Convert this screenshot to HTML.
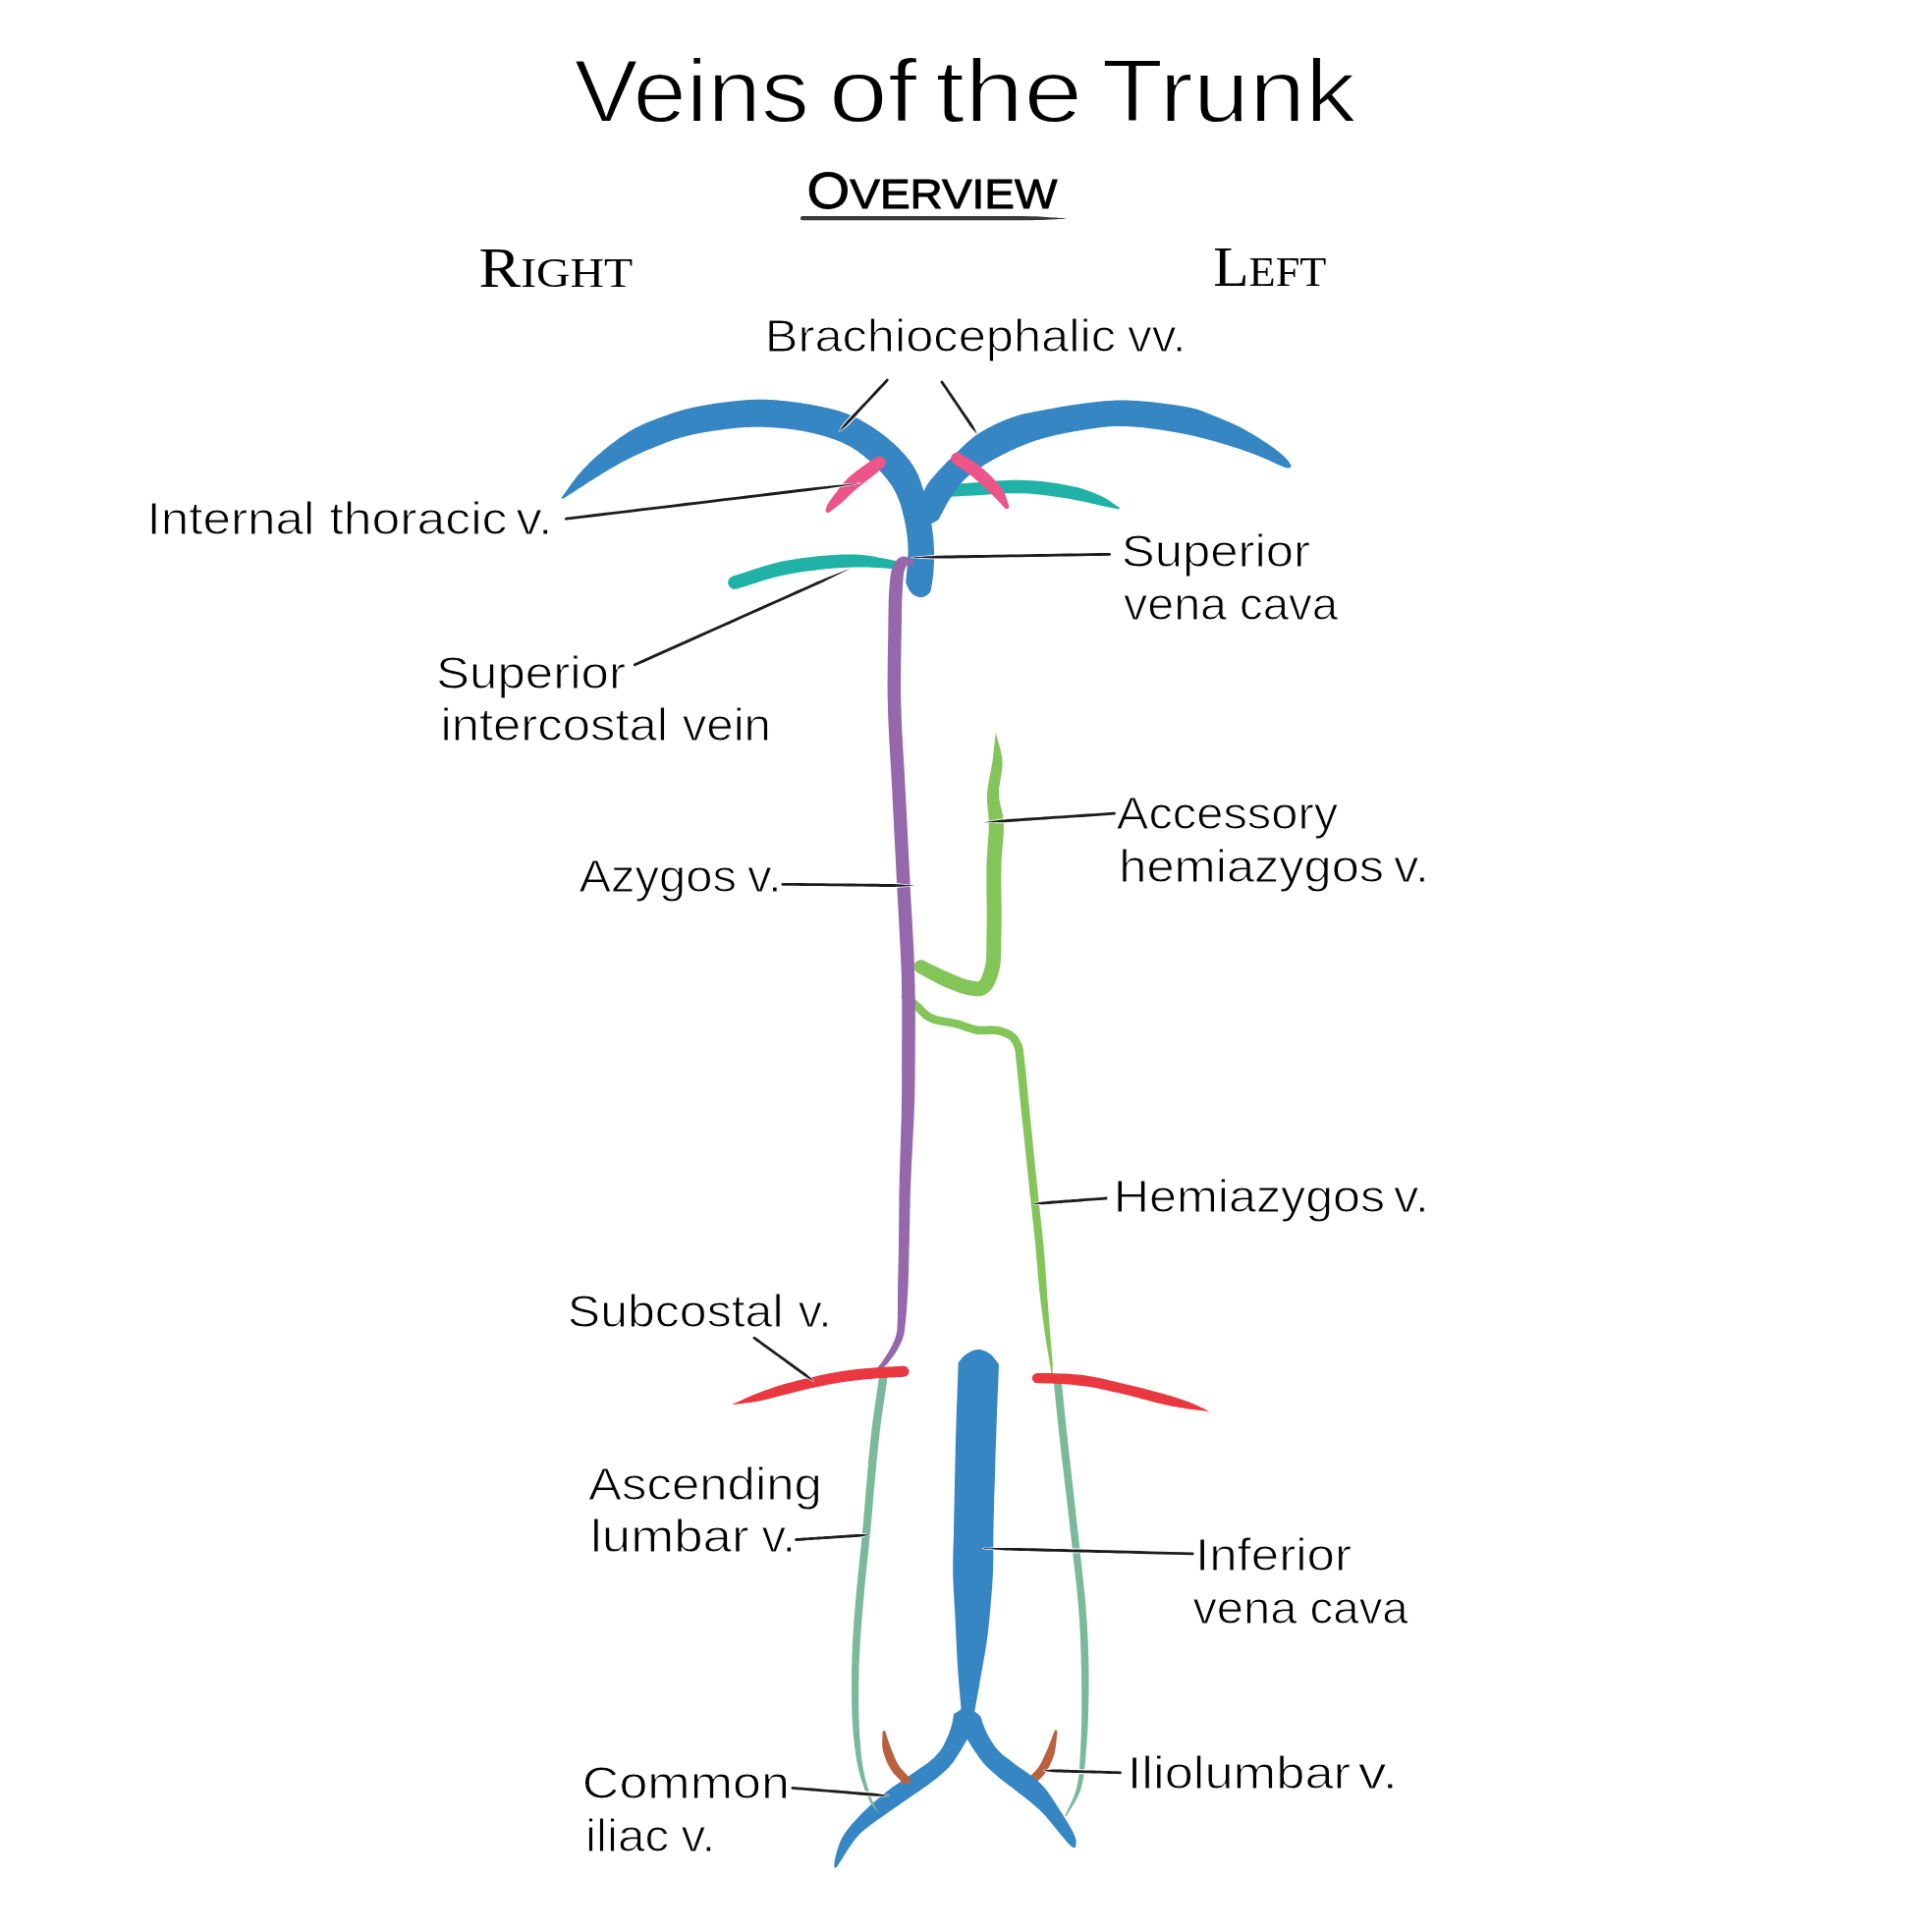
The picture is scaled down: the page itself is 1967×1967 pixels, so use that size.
<!DOCTYPE html>
<html><head><meta charset="utf-8"><title>Veins of the Trunk</title>
<style>html,body{margin:0;padding:0;background:#fff;}svg{display:block;}</style></head>
<body>
<svg width="1967" height="1967" viewBox="0 0 1967 1967">
<rect width="1967" height="1967" fill="#fff"/>
<g id="vessels">
<path d="M958.4 506.2 L961.6 506.1 L964.7 505.9 L967.8 505.7 L970.8 505.5 L973.9 505.4 L977.0 505.2 L980.2 505.0 L983.5 504.8 L986.8 504.7 L990.4 504.5 L995.2 504.2 L1000.2 503.9 L1005.4 503.5 L1010.7 503.2 L1016.0 502.8 L1021.4 502.6 L1026.8 502.3 L1032.1 502.2 L1037.4 502.2 L1042.5 502.3 L1047.7 502.6 L1053.1 503.1 L1058.5 503.6 L1064.0 504.2 L1069.5 504.9 L1074.8 505.7 L1080.0 506.5 L1085.0 507.3 L1089.8 508.1 L1094.2 509.0 L1097.2 509.5 L1100.0 510.1 L1102.8 510.6 L1105.5 511.2 L1108.1 511.8 L1110.6 512.4 L1113.2 513.0 L1115.6 513.6 L1118.1 514.2 L1120.5 514.7 L1122.4 515.1 L1124.2 515.5 L1126.1 515.9 L1127.9 516.2 L1129.6 516.6 L1131.4 516.9 L1133.2 517.3 L1135.0 517.7 L1136.8 518.0 L1138.6 518.4 A1.00 1.00 0 0 0 1139.4 516.6 L1137.8 515.5 L1136.3 514.5 L1134.9 513.5 L1133.4 512.4 L1131.9 511.4 L1130.3 510.3 L1128.7 509.3 L1127.1 508.2 L1125.3 507.2 L1123.5 506.3 L1121.2 505.2 L1118.9 504.1 L1116.5 503.0 L1114.1 502.0 L1111.5 500.9 L1108.8 499.9 L1106.0 498.9 L1103.1 498.0 L1100.1 497.1 L1097.0 496.2 L1092.4 495.2 L1087.4 494.2 L1082.3 493.2 L1076.9 492.3 L1071.3 491.5 L1065.7 490.8 L1060.0 490.1 L1054.3 489.6 L1048.6 489.2 L1043.1 488.9 L1037.5 488.7 L1031.9 488.7 L1026.3 488.9 L1020.7 489.2 L1015.2 489.6 L1009.7 490.0 L1004.4 490.4 L999.2 490.8 L994.3 491.2 L989.6 491.5 L986.1 491.7 L982.7 492.0 L979.4 492.2 L976.2 492.4 L973.1 492.6 L970.0 492.9 L966.9 493.1 L963.9 493.3 L960.8 493.5 L957.6 493.8 Z" fill="#20b2a6"/>
<path d="M749.9 599.5 L755.1 597.9 L760.3 596.4 L765.4 594.8 L770.5 593.2 L775.5 591.6 L780.6 590.1 L785.6 588.6 L790.8 587.3 L796.0 586.0 L801.3 584.9 L807.8 583.7 L814.6 582.6 L821.6 581.6 L828.7 580.7 L835.9 579.8 L843.1 579.1 L850.2 578.5 L857.1 578.1 L863.7 577.7 L870.0 577.5 L874.7 577.4 L879.2 577.4 L883.7 577.6 L888.1 577.8 L892.4 578.0 L896.8 578.3 L901.2 578.6 L905.6 578.9 L910.0 579.2 L914.6 579.5 L915.4 571.5 L911.0 570.8 L906.7 570.0 L902.5 569.1 L898.2 568.2 L893.8 567.4 L889.3 566.5 L884.8 565.8 L880.0 565.2 L875.1 564.8 L870.0 564.5 L863.4 564.5 L856.5 564.6 L849.3 564.9 L842.0 565.4 L834.6 566.1 L827.1 566.9 L819.7 567.8 L812.5 568.8 L805.4 569.9 L798.7 571.1 L792.9 572.3 L787.3 573.7 L781.9 575.2 L776.6 576.7 L771.4 578.4 L766.3 580.0 L761.2 581.7 L756.2 583.4 L751.2 585.0 L746.1 586.5 A6.75 6.75 0 0 0 749.9 599.5 Z" fill="#20b2a6"/>
<path d="M571.5 506.8 L572.7 505.2 L573.9 503.6 L575.0 501.9 L576.2 500.3 L577.3 498.7 L578.5 497.1 L579.7 495.4 L580.8 493.8 L582.0 492.2 L583.2 490.6 L584.4 489.0 L585.6 487.4 L586.9 485.8 L588.1 484.3 L589.4 482.7 L590.7 481.2 L592.0 479.7 L593.3 478.2 L594.7 476.8 L596.1 475.3 L597.5 473.9 L598.9 472.5 L600.3 471.1 L601.7 469.7 L603.2 468.3 L604.7 467.0 L606.2 465.6 L607.7 464.3 L609.2 463.0 L610.7 461.7 L612.2 460.4 L613.7 459.1 L615.3 457.8 L616.8 456.6 L618.4 455.3 L619.9 454.1 L621.5 452.8 L623.1 451.6 L624.7 450.4 L626.3 449.2 L627.9 448.0 L629.5 446.8 L631.1 445.6 L632.7 444.5 L634.4 443.4 L636.1 442.3 L637.7 441.2 L639.4 440.1 L641.1 439.1 L642.9 438.1 L644.6 437.1 L646.3 436.1 L648.1 435.2 L649.9 434.3 L651.7 433.4 L653.5 432.6 L655.3 431.7 L657.1 430.9 L659.0 430.1 L660.8 429.4 L662.7 428.6 L664.5 427.9 L666.4 427.2 L668.3 426.4 L670.1 425.7 L672.0 425.0 L673.9 424.4 L675.8 423.7 L677.7 423.0 L679.6 422.4 L681.4 421.7 L683.3 421.1 L685.2 420.5 L687.1 419.8 L689.1 419.3 L691.0 418.7 L692.9 418.1 L694.8 417.6 L696.7 417.0 L698.7 416.5 L700.6 416.0 L702.6 415.6 L704.5 415.1 L706.4 414.7 L708.4 414.3 L710.4 413.9 L712.3 413.5 L714.3 413.1 L716.3 412.7 L718.2 412.4 L720.2 412.1 L722.2 411.7 L724.1 411.4 L726.1 411.1 L728.1 410.8 L730.1 410.5 L732.1 410.3 L734.0 410.0 L736.0 409.7 L738.0 409.5 L740.0 409.3 L742.0 409.0 L744.0 408.8 L746.0 408.6 L747.9 408.4 L749.9 408.1 L751.9 407.9 L753.9 407.8 L755.9 407.6 L757.9 407.4 L759.9 407.2 L761.9 407.1 L763.9 407.0 L765.9 406.9 L767.9 406.8 L769.9 406.7 L771.9 406.7 L773.9 406.7 L775.9 406.7 L777.9 406.7 L779.9 406.8 L781.9 406.9 L783.8 407.0 L785.8 407.1 L787.8 407.2 L789.8 407.3 L791.8 407.5 L793.8 407.7 L795.8 407.9 L797.8 408.1 L799.8 408.3 L801.8 408.5 L803.8 408.7 L805.7 409.0 L807.7 409.2 L809.7 409.5 L811.7 409.8 L813.7 410.1 L815.6 410.3 L817.6 410.7 L819.6 411.0 L821.6 411.3 L823.5 411.6 L825.5 412.0 L827.5 412.3 L829.4 412.7 L831.4 413.1 L833.4 413.5 L835.3 413.8 L837.3 414.2 L839.3 414.7 L841.2 415.1 L843.2 415.5 L845.1 416.0 L847.0 416.5 L849.0 417.0 L850.9 417.5 L852.8 418.0 L854.7 418.6 L856.6 419.2 L858.5 419.9 L860.4 420.5 L862.3 421.2 L864.1 422.0 L866.0 422.7 L867.8 423.5 L869.6 424.4 L871.4 425.2 L873.2 426.1 L875.0 427.0 L876.7 428.0 L878.5 428.9 L880.2 429.9 L882.0 430.9 L883.7 432.0 L885.4 433.0 L887.1 434.1 L888.7 435.2 L890.4 436.3 L892.0 437.4 L893.7 438.6 L895.3 439.7 L896.9 440.9 L898.5 442.1 L900.1 443.3 L901.7 444.5 L903.2 445.8 L904.8 447.1 L906.3 448.4 L907.8 449.7 L909.3 451.0 L910.8 452.3 L912.2 453.7 L913.7 455.1 L915.1 456.5 L916.5 457.9 L917.9 459.4 L919.2 460.8 L920.6 462.3 L921.9 463.8 L923.2 465.3 L924.5 466.9 L925.7 468.4 L926.9 470.0 L928.0 471.7 L929.2 473.3 L930.2 475.0 L931.2 476.7 L932.2 478.4 L933.1 480.2 L934.0 482.0 L934.8 483.8 L935.6 485.6 L936.3 487.5 L937.0 489.4 L937.7 491.3 L938.3 493.2 L938.9 495.0 L939.5 497.0 L940.1 498.9 L940.7 500.8 L941.3 502.7 L941.9 504.6 L942.4 506.5 L943.0 508.4 L943.5 510.4 L944.0 512.3 L944.5 514.2 L945.0 516.2 L945.5 518.1 L945.9 520.1 L946.3 522.0 L946.7 524.0 L947.1 526.0 L947.4 527.9 L947.8 529.9 L948.1 531.9 L948.4 533.8 L948.7 535.8 L949.0 537.8 L949.3 539.8 L949.5 541.8 L949.8 543.7 L950.0 545.7 L950.2 547.7 L950.4 549.7 L950.5 551.7 L950.7 553.7 L950.8 555.7 L950.9 557.7 L951.0 559.7 L951.0 561.7 L951.1 563.7 L951.1 565.7 L951.1 567.7 L951.0 569.7 L951.0 571.7 L950.9 573.7 L950.8 575.7 L950.7 577.7 L950.6 579.7 L950.4 581.6 L950.3 583.6 L950.1 585.6 L949.8 587.6 L949.6 589.6 L949.3 591.6 L949.0 593.5 L948.7 595.5 L948.3 597.4 L948.0 599.4 L947.6 601.3 L947.3 602.6 L945.9 604.0 L944.4 605.4 L942.8 606.5 L941.1 607.4 L939.3 607.9 L937.5 608.0 L935.8 607.9 L934.2 607.5 L932.6 606.9 L931.1 606.2 L929.7 605.2 L928.3 604.1 L927.1 602.7 L925.9 601.1 L924.9 599.4 L924.1 597.6 L923.2 595.8 L922.4 594.1 L922.1 593.5 L922.3 591.5 L922.5 589.5 L922.7 587.5 L922.9 585.5 L923.1 583.5 L923.3 581.6 L923.5 579.6 L923.7 577.6 L923.8 575.6 L924.0 573.6 L924.1 571.6 L924.3 569.6 L924.4 567.6 L924.4 565.6 L924.5 563.6 L924.5 561.6 L924.5 559.6 L924.4 557.6 L924.4 555.6 L924.3 553.6 L924.1 551.6 L924.0 549.7 L923.8 547.7 L923.6 545.7 L923.3 543.7 L923.0 541.7 L922.7 539.7 L922.4 537.8 L922.1 535.8 L921.7 533.8 L921.3 531.9 L920.9 529.9 L920.5 528.0 L920.0 526.0 L919.6 524.1 L919.1 522.1 L918.6 520.2 L918.1 518.3 L917.5 516.3 L917.0 514.4 L916.4 512.5 L915.7 510.6 L915.0 508.8 L914.3 506.9 L913.5 505.1 L912.7 503.3 L911.8 501.5 L910.9 499.7 L910.0 498.0 L909.0 496.3 L907.9 494.6 L906.8 492.9 L905.6 491.3 L904.5 489.7 L903.2 488.1 L902.0 486.6 L900.7 485.0 L899.4 483.5 L898.1 482.0 L896.7 480.5 L895.3 479.1 L894.0 477.6 L892.6 476.2 L891.1 474.8 L889.7 473.4 L888.3 472.0 L886.8 470.7 L885.4 469.3 L883.9 468.0 L882.4 466.7 L880.8 465.4 L879.3 464.1 L877.7 462.9 L876.1 461.7 L874.5 460.5 L872.9 459.3 L871.2 458.2 L869.5 457.2 L867.8 456.1 L866.1 455.1 L864.4 454.1 L862.6 453.2 L860.8 452.3 L859.0 451.5 L857.2 450.6 L855.4 449.8 L853.6 449.0 L851.7 448.3 L849.8 447.6 L848.0 446.9 L846.1 446.2 L844.2 445.6 L842.3 445.0 L840.4 444.4 L838.5 443.8 L836.5 443.2 L834.6 442.7 L832.7 442.2 L830.7 441.7 L828.8 441.2 L826.9 440.8 L824.9 440.4 L822.9 439.9 L821.0 439.5 L819.0 439.2 L817.1 438.8 L815.1 438.5 L813.1 438.2 L811.1 437.9 L809.2 437.6 L807.2 437.3 L805.2 437.0 L803.2 436.8 L801.2 436.6 L799.2 436.3 L797.3 436.1 L795.3 436.0 L793.3 435.8 L791.3 435.6 L789.3 435.5 L787.3 435.3 L785.3 435.2 L783.3 435.1 L781.3 435.0 L779.3 434.9 L777.3 434.8 L775.3 434.8 L773.3 434.8 L771.3 434.7 L769.3 434.7 L767.3 434.8 L765.3 434.8 L763.3 434.9 L761.3 434.9 L759.3 435.0 L757.3 435.1 L755.3 435.3 L753.3 435.4 L751.3 435.6 L749.4 435.8 L747.4 436.0 L745.4 436.2 L743.4 436.4 L741.4 436.6 L739.4 436.9 L737.4 437.1 L735.5 437.4 L733.5 437.7 L731.5 437.9 L729.5 438.2 L727.5 438.5 L725.6 438.8 L723.6 439.1 L721.6 439.4 L719.6 439.7 L717.7 440.1 L715.7 440.4 L713.7 440.8 L711.7 441.1 L709.8 441.5 L707.8 441.9 L705.9 442.3 L703.9 442.8 L702.0 443.2 L700.0 443.7 L698.1 444.2 L696.2 444.7 L694.2 445.2 L692.3 445.8 L690.4 446.4 L688.5 447.0 L686.6 447.6 L684.7 448.3 L682.8 448.9 L681.0 449.6 L679.1 450.3 L677.2 451.0 L675.3 451.7 L673.5 452.5 L671.6 453.2 L669.8 453.9 L667.9 454.7 L666.1 455.4 L664.2 456.2 L662.4 457.0 L660.5 457.8 L658.7 458.5 L656.9 459.3 L655.0 460.1 L653.2 460.9 L651.4 461.8 L649.5 462.6 L647.7 463.4 L645.9 464.3 L644.1 465.1 L642.3 466.0 L640.5 466.9 L638.7 467.8 L636.9 468.7 L635.2 469.6 L633.4 470.5 L631.6 471.5 L629.9 472.4 L628.1 473.4 L626.4 474.4 L624.7 475.4 L622.9 476.4 L621.2 477.4 L619.5 478.4 L617.8 479.5 L616.1 480.5 L614.4 481.5 L612.7 482.6 L611.0 483.7 L609.3 484.7 L607.6 485.8 L605.9 486.8 L604.2 487.9 L602.5 489.0 L600.8 490.0 L599.1 491.1 L597.4 492.2 L595.8 493.3 L594.1 494.4 L592.4 495.4 L590.7 496.5 L589.0 497.6 L587.4 498.7 L585.7 499.8 L584.0 500.9 L582.3 502.0 L580.7 503.1 L579.0 504.1 L577.3 505.2 L575.7 506.3 L574.1 507.3 L573.0 508.0 L571.5 506.8 Z" fill="#3786c4"/>
<path d="M936.0 530.0 L936.2 528.0 L936.4 526.0 L936.5 524.0 L936.7 522.0 L936.8 520.0 L937.0 518.0 L937.2 516.1 L937.4 514.1 L937.7 512.1 L938.0 510.1 L938.3 508.2 L938.7 506.2 L939.2 504.3 L939.7 502.4 L940.4 500.6 L941.1 498.8 L942.0 497.0 L942.9 495.2 L943.9 493.6 L945.0 491.9 L946.2 490.3 L947.4 488.7 L948.7 487.2 L949.9 485.7 L951.3 484.2 L952.6 482.7 L953.9 481.2 L955.3 479.7 L956.6 478.2 L958.0 476.8 L959.4 475.3 L960.7 473.9 L962.1 472.4 L963.5 471.0 L964.9 469.6 L966.3 468.2 L967.8 466.7 L969.2 465.3 L970.6 463.9 L972.0 462.5 L973.5 461.1 L974.9 459.8 L976.3 458.4 L977.8 457.0 L979.2 455.6 L980.7 454.2 L982.1 452.8 L983.6 451.5 L985.1 450.1 L986.6 448.8 L988.1 447.5 L989.6 446.3 L991.2 445.0 L992.8 443.8 L994.4 442.7 L996.1 441.6 L997.7 440.5 L999.4 439.4 L1001.1 438.4 L1002.9 437.4 L1004.6 436.4 L1006.4 435.5 L1008.2 434.6 L1009.9 433.7 L1011.7 432.8 L1013.5 431.9 L1015.3 431.1 L1017.2 430.2 L1019.0 429.4 L1020.8 428.6 L1022.7 427.9 L1024.5 427.1 L1026.4 426.4 L1028.3 425.7 L1030.1 425.0 L1032.0 424.4 L1033.9 423.8 L1035.8 423.2 L1037.8 422.6 L1039.7 422.1 L1041.6 421.6 L1043.6 421.1 L1045.5 420.7 L1047.5 420.3 L1049.4 419.9 L1051.4 419.5 L1053.3 419.1 L1055.3 418.8 L1057.3 418.4 L1059.2 418.0 L1061.2 417.7 L1063.2 417.3 L1065.1 417.0 L1067.1 416.6 L1069.1 416.3 L1071.1 415.9 L1073.0 415.5 L1075.0 415.2 L1077.0 414.8 L1078.9 414.5 L1080.9 414.1 L1082.9 413.8 L1084.8 413.5 L1086.8 413.2 L1088.8 412.8 L1090.8 412.5 L1092.7 412.2 L1094.7 411.9 L1096.7 411.6 L1098.7 411.4 L1100.7 411.1 L1102.6 410.8 L1104.6 410.6 L1106.6 410.3 L1108.6 410.1 L1110.6 409.8 L1112.6 409.6 L1114.5 409.4 L1116.5 409.1 L1118.5 408.9 L1120.5 408.7 L1122.5 408.5 L1124.5 408.3 L1126.5 408.2 L1128.5 408.0 L1130.5 407.9 L1132.5 407.8 L1134.5 407.7 L1136.5 407.6 L1138.5 407.5 L1140.5 407.5 L1142.5 407.5 L1144.5 407.5 L1146.5 407.6 L1148.5 407.6 L1150.5 407.7 L1152.4 407.8 L1154.4 407.9 L1156.4 408.0 L1158.4 408.1 L1160.4 408.3 L1162.4 408.4 L1164.4 408.6 L1166.4 408.8 L1168.4 408.9 L1170.4 409.1 L1172.4 409.3 L1174.4 409.5 L1176.4 409.8 L1178.3 410.0 L1180.3 410.2 L1182.3 410.5 L1184.3 410.7 L1186.3 411.0 L1188.3 411.2 L1190.3 411.5 L1192.2 411.7 L1194.2 412.0 L1196.2 412.3 L1198.2 412.6 L1200.1 412.9 L1202.1 413.2 L1204.1 413.6 L1206.1 413.9 L1208.0 414.3 L1210.0 414.7 L1211.9 415.1 L1213.9 415.5 L1215.8 416.0 L1217.7 416.5 L1219.7 417.1 L1221.6 417.7 L1223.4 418.3 L1225.3 419.0 L1227.2 419.7 L1229.0 420.4 L1230.9 421.2 L1232.7 421.9 L1234.6 422.7 L1236.4 423.4 L1238.3 424.2 L1240.2 424.9 L1242.0 425.7 L1243.9 426.4 L1245.7 427.2 L1247.6 428.0 L1249.4 428.7 L1251.2 429.5 L1253.1 430.4 L1254.9 431.2 L1256.7 432.0 L1258.5 432.9 L1260.3 433.8 L1262.1 434.7 L1263.8 435.6 L1265.6 436.5 L1267.4 437.5 L1269.1 438.5 L1270.8 439.5 L1272.6 440.5 L1274.3 441.5 L1276.0 442.5 L1277.7 443.5 L1279.4 444.6 L1281.1 445.6 L1282.8 446.7 L1284.5 447.8 L1286.2 448.9 L1287.8 450.0 L1289.5 451.1 L1291.2 452.2 L1292.8 453.3 L1294.5 454.4 L1296.1 455.6 L1297.7 456.8 L1299.3 458.0 L1300.9 459.2 L1302.5 460.4 L1304.0 461.7 L1305.5 463.0 L1306.9 464.3 L1308.4 465.7 L1309.7 467.2 L1311.1 468.6 L1312.3 470.2 L1313.4 471.9 L1314.3 473.6 L1314.8 474.5 L1313.6 476.1 L1311.9 476.6 L1310.1 476.4 L1308.3 475.9 L1306.5 475.2 L1304.7 474.5 L1302.9 473.8 L1301.1 473.0 L1299.3 472.2 L1297.5 471.3 L1295.7 470.5 L1293.9 469.7 L1292.1 468.8 L1290.3 468.0 L1288.4 467.2 L1286.6 466.4 L1284.8 465.6 L1282.9 464.9 L1281.1 464.1 L1279.2 463.4 L1277.3 462.6 L1275.5 461.9 L1273.6 461.2 L1271.7 460.5 L1269.8 459.9 L1268.0 459.2 L1266.1 458.5 L1264.2 457.9 L1262.3 457.3 L1260.4 456.6 L1258.5 456.0 L1256.6 455.4 L1254.7 454.8 L1252.8 454.2 L1250.9 453.6 L1248.9 453.0 L1247.0 452.4 L1245.1 451.8 L1243.2 451.3 L1241.3 450.7 L1239.4 450.1 L1237.4 449.6 L1235.5 449.0 L1233.6 448.5 L1231.7 448.0 L1229.7 447.4 L1227.8 446.9 L1225.9 446.4 L1223.9 445.9 L1222.0 445.5 L1220.0 445.0 L1218.1 444.5 L1216.2 444.1 L1214.2 443.6 L1212.2 443.2 L1210.3 442.8 L1208.3 442.3 L1206.4 441.9 L1204.4 441.5 L1202.5 441.2 L1200.5 440.8 L1198.5 440.4 L1196.6 440.1 L1194.6 439.7 L1192.6 439.4 L1190.7 439.0 L1188.7 438.7 L1186.7 438.4 L1184.7 438.1 L1182.8 437.8 L1180.8 437.5 L1178.8 437.2 L1176.8 436.9 L1174.8 436.7 L1172.8 436.4 L1170.9 436.2 L1168.9 435.9 L1166.9 435.7 L1164.9 435.5 L1162.9 435.3 L1160.9 435.1 L1158.9 434.9 L1156.9 434.7 L1154.9 434.5 L1153.0 434.4 L1151.0 434.3 L1149.0 434.2 L1147.0 434.1 L1145.0 434.0 L1143.0 434.0 L1141.0 433.9 L1139.0 433.9 L1137.0 434.0 L1135.0 434.0 L1133.0 434.1 L1131.0 434.2 L1129.0 434.3 L1127.0 434.5 L1125.0 434.7 L1123.0 434.9 L1121.0 435.1 L1119.1 435.4 L1117.1 435.6 L1115.1 435.9 L1113.1 436.2 L1111.1 436.5 L1109.2 436.8 L1107.2 437.1 L1105.2 437.4 L1103.2 437.7 L1101.3 438.0 L1099.3 438.3 L1097.3 438.7 L1095.3 439.0 L1093.4 439.3 L1091.4 439.7 L1089.4 440.0 L1087.5 440.4 L1085.5 440.8 L1083.5 441.2 L1081.6 441.5 L1079.6 441.9 L1077.7 442.4 L1075.7 442.8 L1073.8 443.2 L1071.8 443.7 L1069.9 444.2 L1067.9 444.7 L1066.0 445.2 L1064.1 445.7 L1062.1 446.2 L1060.2 446.8 L1058.3 447.4 L1056.4 448.0 L1054.5 448.6 L1052.6 449.2 L1050.7 449.9 L1048.8 450.6 L1047.0 451.2 L1045.1 452.0 L1043.2 452.7 L1041.4 453.4 L1039.5 454.2 L1037.7 454.9 L1035.8 455.7 L1034.0 456.5 L1032.2 457.4 L1030.4 458.2 L1028.6 459.0 L1026.8 459.9 L1025.0 460.8 L1023.2 461.7 L1021.4 462.6 L1019.6 463.5 L1017.8 464.4 L1016.1 465.4 L1014.3 466.3 L1012.6 467.3 L1010.8 468.3 L1009.1 469.2 L1007.4 470.2 L1005.6 471.3 L1003.9 472.3 L1002.2 473.3 L1000.5 474.4 L998.8 475.4 L997.1 476.5 L995.4 477.6 L993.8 478.7 L992.2 479.8 L990.5 481.0 L989.0 482.2 L987.4 483.5 L985.9 484.7 L984.4 486.1 L982.9 487.4 L981.5 488.8 L980.1 490.3 L978.8 491.7 L977.5 493.2 L976.2 494.8 L975.0 496.3 L973.8 497.9 L972.6 499.5 L971.4 501.2 L970.3 502.8 L969.2 504.5 L968.2 506.2 L967.1 507.9 L966.1 509.6 L965.1 511.3 L964.1 513.1 L963.1 514.8 L962.2 516.6 L961.2 518.3 L960.3 520.1 L959.4 521.9 L958.4 523.6 L957.5 525.4 L956.6 527.2 L955.7 528.8 L954.2 530.1 L952.5 531.1 L950.8 532.1 L948.9 532.8 L948.0 533.0 L946.1 532.5 L944.1 532.0 L942.2 531.5 L940.3 531.1 L938.4 530.6 L936.6 530.1 L936.0 530.0 Z" fill="#3786c4"/>
<path d="M892.3 465.5 L891.0 466.3 L889.8 467.1 L888.6 467.9 L887.3 468.8 L886.1 469.6 L884.9 470.4 L883.6 471.2 L882.3 472.1 L881.1 473.0 L879.8 473.9 L878.3 475.0 L876.8 476.0 L875.3 477.1 L873.7 478.3 L872.0 479.5 L870.4 480.7 L868.7 482.0 L867.1 483.4 L865.4 484.8 L863.8 486.3 L862.1 488.1 L860.4 489.9 L858.7 491.8 L857.1 493.7 L855.6 495.7 L854.1 497.6 L852.7 499.4 L851.4 501.2 L850.1 502.8 L849.0 504.3 L848.3 505.2 L847.6 506.1 L847.0 507.0 L846.3 507.9 L845.7 508.8 L845.1 509.6 L844.5 510.5 L844.0 511.3 L843.4 512.1 L842.9 512.9 L842.6 513.5 L842.4 514.1 L842.2 514.6 L842.0 515.2 L841.8 515.7 L841.6 516.1 L841.5 516.6 L841.3 517.1 L841.2 517.5 L841.0 518.0 A2.50 2.50 0 0 0 845.0 521.0 L845.4 520.7 L845.8 520.4 L846.2 520.1 L846.6 519.8 L847.0 519.5 L847.4 519.2 L847.8 518.9 L848.2 518.6 L848.6 518.4 L849.1 518.1 L849.7 517.6 L850.3 517.1 L851.0 516.5 L851.8 515.9 L852.6 515.3 L853.4 514.7 L854.2 514.0 L855.1 513.3 L856.1 512.6 L857.0 511.7 L858.5 510.4 L860.0 508.9 L861.6 507.4 L863.3 505.8 L865.0 504.2 L866.7 502.6 L868.4 501.0 L870.1 499.4 L871.7 498.0 L873.2 496.7 L874.6 495.5 L876.1 494.4 L877.5 493.2 L879.1 492.1 L880.6 490.9 L882.1 489.8 L883.7 488.6 L885.2 487.4 L886.7 486.3 L888.2 485.1 L889.5 484.1 L890.6 483.1 L891.8 482.2 L893.0 481.2 L894.1 480.3 L895.2 479.3 L896.3 478.4 L897.5 477.4 L898.6 476.5 L899.7 475.5 A6.25 6.25 0 0 0 892.3 465.5 Z" fill="#ec5587"/>
<path d="M971.1 472.3 L972.7 473.3 L974.3 474.3 L975.9 475.3 L977.4 476.3 L978.9 477.3 L980.4 478.2 L981.9 479.2 L983.3 480.2 L984.7 481.2 L986.1 482.2 L987.6 483.3 L989.0 484.5 L990.5 485.7 L991.9 487.0 L993.4 488.2 L994.8 489.5 L996.3 490.8 L997.7 492.1 L999.1 493.4 L1000.5 494.7 L1001.8 495.9 L1003.1 497.1 L1004.4 498.3 L1005.6 499.5 L1006.8 500.6 L1008.0 501.8 L1009.2 502.9 L1010.4 504.1 L1011.5 505.2 L1012.6 506.3 L1013.6 507.3 L1014.6 508.3 L1015.6 509.4 L1016.6 510.4 L1017.6 511.5 L1018.7 512.6 L1019.7 513.8 L1020.7 515.0 L1021.8 516.1 L1022.9 517.3 A2.50 2.50 0 0 0 1027.1 514.7 L1026.6 513.3 L1026.2 511.8 L1025.7 510.4 L1025.2 508.9 L1024.8 507.4 L1024.2 505.8 L1023.6 504.3 L1023.0 502.8 L1022.2 501.2 L1021.4 499.7 L1020.4 498.1 L1019.3 496.6 L1018.2 495.1 L1017.1 493.6 L1015.9 492.2 L1014.6 490.7 L1013.4 489.4 L1012.1 488.0 L1010.8 486.7 L1009.5 485.3 L1008.1 483.9 L1006.6 482.5 L1005.1 481.1 L1003.6 479.7 L1002.0 478.3 L1000.4 477.0 L998.8 475.6 L997.2 474.3 L995.6 473.0 L993.9 471.8 L992.3 470.6 L990.6 469.5 L988.9 468.4 L987.3 467.4 L985.7 466.4 L984.1 465.5 L982.5 464.5 L980.9 463.6 L979.4 462.7 L977.9 461.7 A6.25 6.25 0 0 0 971.1 472.3 Z" fill="#ec5587"/>
<path d="M917.1 1015.1 L918.4 1016.3 L919.7 1017.5 L921.0 1018.7 L922.3 1019.9 L923.6 1021.1 L924.9 1022.3 L926.2 1023.5 L927.5 1024.7 L928.8 1026.0 L930.1 1027.1 L931.4 1028.3 L932.7 1029.6 L934.0 1030.9 L935.3 1032.2 L936.7 1033.6 L938.2 1035.0 L939.8 1036.4 L941.5 1037.7 L943.4 1039.0 L945.4 1040.1 L948.1 1041.3 L950.9 1042.2 L953.7 1043.0 L956.7 1043.6 L959.6 1044.1 L962.5 1044.6 L965.4 1045.1 L968.1 1045.5 L970.7 1046.0 L973.1 1046.6 L975.2 1047.2 L977.2 1047.8 L979.2 1048.5 L981.3 1049.2 L983.3 1049.9 L985.4 1050.6 L987.5 1051.3 L989.7 1051.9 L991.9 1052.5 L994.3 1052.9 L996.6 1053.2 L999.0 1053.3 L1001.3 1053.3 L1003.5 1053.2 L1005.7 1053.1 L1007.8 1053.0 L1009.7 1053.0 L1011.6 1053.0 L1013.2 1053.1 L1014.8 1053.4 L1016.2 1053.7 L1017.7 1054.1 L1019.2 1054.5 L1020.6 1054.9 L1022.0 1055.4 L1023.2 1055.9 L1024.4 1056.5 L1025.5 1057.0 L1026.5 1057.7 L1027.3 1058.3 L1028.0 1058.9 L1028.6 1059.5 L1029.2 1060.2 L1029.7 1061.0 L1030.3 1061.8 L1030.8 1062.6 L1031.2 1063.5 L1031.7 1064.5 L1032.1 1065.5 L1032.5 1066.5 L1032.9 1067.5 L1033.2 1068.6 L1033.4 1069.7 L1033.6 1070.9 L1033.7 1072.2 L1033.9 1073.6 L1034.0 1075.2 L1034.2 1076.8 L1034.4 1078.6 L1034.6 1080.5 L1035.0 1083.9 L1035.4 1087.6 L1035.8 1091.5 L1036.2 1095.7 L1036.7 1100.1 L1037.1 1104.7 L1037.6 1109.5 L1038.1 1114.4 L1038.6 1119.4 L1039.1 1124.4 L1039.8 1131.7 L1040.6 1139.5 L1041.5 1147.8 L1042.4 1156.3 L1043.3 1165.0 L1044.2 1173.8 L1045.1 1182.5 L1046.0 1191.1 L1046.9 1199.5 L1047.7 1207.4 L1048.4 1214.1 L1049.2 1220.8 L1049.9 1227.4 L1050.6 1233.8 L1051.3 1240.2 L1052.0 1246.5 L1052.6 1252.7 L1053.2 1258.7 L1053.9 1264.6 L1054.4 1270.4 L1054.9 1275.0 L1055.2 1279.5 L1055.6 1284.0 L1056.0 1288.3 L1056.3 1292.5 L1056.6 1296.8 L1057.0 1301.0 L1057.4 1305.2 L1057.8 1309.5 L1058.2 1313.8 L1058.7 1318.2 L1059.2 1322.6 L1059.7 1327.1 L1060.3 1331.5 L1060.8 1336.0 L1061.4 1340.4 L1062.0 1344.7 L1062.6 1349.0 L1063.1 1353.2 L1063.7 1357.3 L1064.3 1360.8 L1064.8 1364.4 L1065.4 1368.0 L1066.0 1371.5 L1066.6 1375.0 L1067.2 1378.3 L1067.8 1381.5 L1068.3 1384.5 L1068.7 1387.2 L1069.1 1389.7 L1069.3 1391.0 L1069.5 1392.1 L1069.6 1393.2 L1069.8 1394.2 L1069.9 1395.2 L1070.0 1396.2 L1070.1 1397.1 L1070.2 1398.0 L1070.4 1399.0 L1070.5 1400.0 L1071.5 1400.0 L1071.5 1399.0 L1071.6 1398.0 L1071.6 1397.0 L1071.6 1396.1 L1071.7 1395.1 L1071.7 1394.1 L1071.7 1393.1 L1071.7 1392.0 L1071.7 1390.8 L1071.7 1389.5 L1071.6 1386.9 L1071.4 1384.1 L1071.2 1381.1 L1070.9 1377.9 L1070.6 1374.5 L1070.3 1371.0 L1070.0 1367.4 L1069.7 1363.8 L1069.4 1360.2 L1069.1 1356.7 L1068.8 1352.6 L1068.4 1348.4 L1068.1 1344.1 L1067.8 1339.7 L1067.4 1335.3 L1067.1 1330.9 L1066.8 1326.4 L1066.4 1322.0 L1066.1 1317.5 L1065.8 1313.2 L1065.5 1308.9 L1065.2 1304.6 L1064.9 1300.4 L1064.6 1296.2 L1064.3 1292.0 L1064.0 1287.7 L1063.7 1283.3 L1063.4 1278.9 L1063.0 1274.3 L1062.6 1269.6 L1062.0 1263.8 L1061.4 1257.9 L1060.8 1251.8 L1060.1 1245.6 L1059.4 1239.3 L1058.7 1232.9 L1058.0 1226.5 L1057.3 1219.9 L1056.6 1213.3 L1055.9 1206.6 L1055.1 1198.6 L1054.2 1190.3 L1053.3 1181.7 L1052.5 1172.9 L1051.6 1164.2 L1050.7 1155.4 L1049.9 1146.9 L1049.0 1138.7 L1048.3 1130.9 L1047.5 1123.6 L1047.0 1118.5 L1046.5 1113.5 L1046.1 1108.6 L1045.6 1103.9 L1045.2 1099.3 L1044.7 1094.8 L1044.3 1090.6 L1043.9 1086.6 L1043.4 1082.9 L1043.0 1079.5 L1042.8 1077.7 L1042.6 1076.0 L1042.5 1074.4 L1042.3 1072.8 L1042.2 1071.3 L1042.0 1069.7 L1041.8 1068.2 L1041.4 1066.6 L1041.0 1065.1 L1040.5 1063.5 L1040.0 1062.2 L1039.4 1061.0 L1038.8 1059.7 L1038.2 1058.5 L1037.5 1057.3 L1036.7 1056.1 L1035.8 1054.9 L1034.9 1053.8 L1033.8 1052.7 L1032.7 1051.7 L1031.3 1050.7 L1029.8 1049.7 L1028.2 1048.9 L1026.6 1048.1 L1025.0 1047.4 L1023.3 1046.8 L1021.6 1046.3 L1019.9 1045.8 L1018.2 1045.4 L1016.4 1045.0 L1014.2 1044.7 L1011.9 1044.5 L1009.7 1044.5 L1007.5 1044.5 L1005.3 1044.6 L1003.2 1044.7 L1001.1 1044.8 L999.2 1044.8 L997.3 1044.7 L995.5 1044.5 L993.7 1044.2 L991.9 1043.7 L990.0 1043.2 L988.0 1042.6 L986.1 1041.9 L984.1 1041.2 L982.0 1040.5 L979.8 1039.7 L977.6 1039.0 L975.3 1038.4 L972.5 1037.7 L969.7 1037.2 L966.8 1036.7 L963.9 1036.2 L961.1 1035.8 L958.3 1035.3 L955.7 1034.7 L953.3 1034.1 L951.1 1033.3 L949.2 1032.5 L947.8 1031.7 L946.4 1030.8 L945.1 1029.8 L943.9 1028.7 L942.6 1027.5 L941.3 1026.2 L940.0 1024.9 L938.7 1023.6 L937.3 1022.2 L935.9 1020.9 L934.5 1019.6 L933.2 1018.5 L931.9 1017.3 L930.6 1016.1 L929.3 1014.9 L928.1 1013.7 L926.8 1012.5 L925.5 1011.3 L924.2 1010.1 L922.9 1008.9 Z" fill="#84c55a"/>
<path d="M926.9 569.0 L926.4 568.8 L925.9 568.5 L925.4 568.1 L924.7 567.7 L923.9 567.4 L923.1 567.0 L922.0 566.7 L920.8 566.6 L919.3 566.6 L917.8 567.0 L916.4 567.6 L915.2 568.3 L914.1 569.1 L913.2 570.0 L912.4 571.0 L911.6 571.9 L911.0 573.0 L910.3 574.0 L909.8 575.0 L909.2 576.2 L908.5 577.9 L907.9 579.9 L907.4 581.8 L907.0 583.8 L906.7 585.8 L906.4 587.8 L906.2 589.9 L906.0 592.0 L905.8 594.2 L905.6 596.5 L905.3 600.5 L905.0 604.9 L904.8 609.6 L904.7 614.5 L904.6 619.6 L904.5 624.9 L904.4 630.3 L904.4 635.7 L904.3 641.1 L904.3 646.5 L904.1 652.9 L904.0 659.5 L903.9 666.3 L903.8 673.1 L903.7 680.1 L903.7 687.2 L903.6 694.4 L903.6 701.7 L903.7 709.1 L903.9 716.7 L904.1 725.5 L904.4 734.6 L904.9 743.8 L905.3 753.1 L905.9 762.6 L906.4 772.1 L907.0 781.6 L907.5 791.2 L908.1 800.6 L908.6 809.9 L909.0 819.3 L909.5 828.6 L910.0 837.9 L910.4 847.2 L910.9 856.5 L911.4 865.9 L911.9 875.2 L912.3 884.5 L912.8 893.8 L913.3 903.1 L913.7 912.5 L914.3 921.9 L914.8 931.2 L915.3 940.6 L915.8 950.0 L916.3 959.3 L916.8 968.6 L917.2 977.9 L917.6 987.0 L917.9 996.2 L918.0 1005.1 L918.2 1014.1 L918.3 1023.3 L918.3 1032.5 L918.3 1041.6 L918.3 1050.5 L918.2 1059.2 L918.2 1067.5 L918.2 1075.4 L918.2 1082.8 L918.1 1087.5 L918.2 1091.8 L918.2 1095.9 L918.2 1099.7 L918.2 1103.5 L918.1 1107.3 L918.1 1111.1 L918.1 1115.1 L918.1 1119.4 L918.0 1124.0 L917.9 1131.2 L917.7 1138.9 L917.4 1147.1 L917.2 1155.6 L916.9 1164.3 L916.6 1173.1 L916.3 1181.9 L916.1 1190.5 L915.8 1198.9 L915.7 1206.8 L915.5 1213.6 L915.4 1220.2 L915.4 1226.8 L915.3 1233.3 L915.3 1239.7 L915.2 1246.0 L915.2 1252.1 L915.1 1258.2 L915.0 1264.1 L915.0 1269.9 L914.9 1274.6 L914.8 1279.2 L914.7 1283.7 L914.6 1288.2 L914.5 1292.5 L914.4 1296.8 L914.3 1301.0 L914.2 1305.2 L914.1 1309.3 L914.1 1313.3 L914.0 1316.8 L914.0 1320.4 L914.0 1323.9 L914.0 1327.4 L914.0 1330.9 L913.9 1334.2 L913.9 1337.4 L913.9 1340.4 L913.8 1343.1 L913.7 1345.7 L913.7 1347.2 L913.6 1348.5 L913.6 1349.8 L913.6 1351.0 L913.5 1352.1 L913.4 1353.1 L913.3 1354.1 L913.2 1355.1 L913.1 1356.1 L912.8 1357.1 L912.6 1358.3 L912.3 1359.4 L912.0 1360.5 L911.6 1361.6 L911.3 1362.7 L910.9 1363.8 L910.4 1364.9 L909.9 1366.0 L909.4 1367.2 L908.9 1368.4 L908.1 1370.0 L907.2 1371.7 L906.3 1373.4 L905.3 1375.2 L904.2 1377.0 L903.1 1378.8 L902.0 1380.6 L900.9 1382.2 L899.8 1383.8 L898.8 1385.3 L898.1 1386.4 L897.4 1387.4 L896.7 1388.3 L896.0 1389.2 L895.3 1390.1 L894.6 1391.0 L893.8 1392.0 L893.1 1392.9 L892.4 1393.9 L891.7 1394.9 L891.0 1395.9 L890.3 1396.9 L889.7 1397.9 L889.0 1398.9 L888.4 1400.0 L887.7 1401.0 L887.1 1402.1 L886.5 1403.1 L885.8 1404.1 L885.2 1405.1 L885.6 1405.5 L886.5 1404.6 L887.3 1403.8 L888.2 1402.9 L889.1 1402.1 L890.0 1401.3 L890.9 1400.4 L891.7 1399.6 L892.6 1398.8 L893.5 1398.0 L894.3 1397.1 L895.2 1396.3 L896.0 1395.6 L896.9 1394.8 L897.8 1394.1 L898.6 1393.3 L899.5 1392.5 L900.4 1391.6 L901.3 1390.7 L902.3 1389.7 L903.2 1388.7 L904.4 1387.2 L905.6 1385.7 L906.9 1384.0 L908.2 1382.3 L909.5 1380.5 L910.7 1378.7 L912.0 1376.9 L913.1 1375.1 L914.2 1373.3 L915.1 1371.6 L915.8 1370.3 L916.4 1369.0 L917.0 1367.7 L917.6 1366.5 L918.1 1365.2 L918.6 1364.0 L919.0 1362.7 L919.4 1361.4 L919.8 1360.2 L920.2 1358.9 L920.5 1357.6 L920.7 1356.3 L920.9 1355.1 L921.1 1353.9 L921.2 1352.7 L921.3 1351.5 L921.5 1350.3 L921.6 1349.0 L921.7 1347.7 L921.9 1346.3 L922.2 1343.7 L922.4 1340.8 L922.7 1337.8 L923.0 1334.6 L923.2 1331.2 L923.5 1327.8 L923.7 1324.3 L923.9 1320.7 L924.2 1317.2 L924.3 1313.7 L924.5 1309.6 L924.7 1305.5 L924.8 1301.3 L925.0 1297.1 L925.1 1292.8 L925.2 1288.4 L925.3 1284.0 L925.4 1279.4 L925.5 1274.8 L925.6 1270.1 L925.8 1264.3 L925.9 1258.4 L926.0 1252.3 L926.2 1246.1 L926.3 1239.8 L926.4 1233.5 L926.6 1227.0 L926.7 1220.4 L926.9 1213.8 L927.1 1207.2 L927.5 1199.2 L927.8 1190.9 L928.2 1182.3 L928.7 1173.6 L929.1 1164.8 L929.6 1156.1 L930.0 1147.6 L930.4 1139.4 L930.7 1131.6 L931.0 1124.4 L931.1 1119.7 L931.3 1115.4 L931.4 1111.3 L931.4 1107.4 L931.5 1103.6 L931.5 1099.8 L931.6 1095.9 L931.6 1091.8 L931.6 1087.5 L931.6 1082.8 L931.7 1075.5 L931.7 1067.6 L931.8 1059.2 L931.8 1050.5 L931.8 1041.6 L931.8 1032.4 L931.8 1023.2 L931.7 1014.0 L931.5 1004.8 L931.3 995.8 L931.1 986.6 L930.7 977.3 L930.3 968.0 L929.8 958.6 L929.3 949.2 L928.8 939.9 L928.3 930.5 L927.7 921.1 L927.2 911.8 L926.7 902.5 L926.3 893.1 L925.8 883.8 L925.3 874.5 L924.9 865.2 L924.4 855.9 L923.9 846.5 L923.5 837.2 L923.0 827.9 L922.5 818.6 L922.0 809.3 L921.5 799.9 L921.0 790.4 L920.5 780.9 L919.9 771.3 L919.3 761.8 L918.8 752.4 L918.3 743.1 L917.9 734.0 L917.6 725.0 L917.3 716.3 L917.2 709.0 L917.1 701.6 L917.1 694.4 L917.2 687.3 L917.2 680.3 L917.3 673.3 L917.4 666.5 L917.5 659.8 L917.6 653.2 L917.7 646.7 L917.8 641.3 L917.9 635.8 L918.0 630.4 L918.0 625.1 L918.1 619.9 L918.2 614.9 L918.4 610.1 L918.6 605.6 L918.8 601.4 L919.0 597.5 L919.2 595.3 L919.3 593.1 L919.4 591.0 L919.6 589.1 L919.7 587.3 L919.9 585.7 L920.0 584.2 L920.2 582.9 L920.5 581.8 L920.8 580.8 L921.0 580.2 L921.3 579.6 L921.5 579.0 L921.8 578.5 L922.0 578.0 L922.2 577.7 L922.3 577.4 L922.4 577.2 L922.4 577.1 L922.2 577.0 L921.8 577.0 L921.6 576.9 L921.6 576.7 L921.9 576.5 L922.3 576.4 L922.9 576.3 L923.6 576.2 L924.4 576.2 L925.3 576.1 L926.1 576.0 A3.50 3.50 0 0 0 926.9 569.0 Z" fill="#9567ab"/>
<path d="M1013.6 746.8 L1013.3 749.6 L1013.0 752.4 L1012.7 755.2 L1012.4 758.0 L1012.1 760.8 L1011.8 763.6 L1011.5 766.3 L1011.2 769.0 L1010.9 771.8 L1010.5 774.5 L1010.1 777.6 L1009.5 780.8 L1008.9 784.1 L1008.2 787.6 L1007.5 791.2 L1006.8 794.8 L1006.2 798.4 L1005.7 802.1 L1005.2 805.9 L1005.0 809.5 L1004.9 812.8 L1005.0 815.9 L1005.2 818.9 L1005.5 821.8 L1005.8 824.6 L1006.1 827.3 L1006.4 830.0 L1006.6 832.6 L1006.7 835.2 L1006.8 837.8 L1006.8 841.4 L1006.7 845.0 L1006.5 848.8 L1006.2 852.7 L1005.9 856.7 L1005.6 860.9 L1005.2 865.3 L1004.9 869.8 L1004.7 874.5 L1004.5 879.3 L1004.4 885.8 L1004.3 892.7 L1004.4 899.9 L1004.4 907.2 L1004.5 914.7 L1004.6 922.1 L1004.7 929.4 L1004.7 936.4 L1004.6 943.1 L1004.5 949.2 L1004.4 953.7 L1004.3 958.0 L1004.3 962.3 L1004.3 966.3 L1004.2 970.2 L1004.1 973.9 L1003.8 977.3 L1003.5 980.5 L1003.0 983.4 L1002.3 986.1 L1001.8 988.0 L1001.2 990.0 L1000.5 991.9 L999.8 993.6 L999.1 995.2 L998.4 996.6 L997.7 997.7 L997.1 998.4 L996.7 998.9 L996.4 999.1 L996.4 999.1 L996.2 999.1 L995.8 999.2 L995.2 999.2 L994.3 999.2 L993.3 999.1 L992.1 998.9 L990.7 998.7 L989.2 998.4 L987.8 998.1 L985.9 997.8 L984.1 997.3 L982.1 996.6 L980.0 995.9 L977.8 995.0 L975.5 994.1 L973.1 993.2 L970.8 992.2 L968.4 991.1 L966.0 990.1 L963.5 989.1 L961.1 987.9 L958.5 986.8 L956.0 985.5 L953.4 984.3 L950.8 983.0 L948.1 981.7 L945.5 980.4 L942.8 979.0 L940.2 977.8 A7.00 7.00 0 0 0 933.8 990.2 L936.4 991.6 L938.9 993.0 L941.5 994.4 L944.1 995.8 L946.7 997.2 L949.3 998.6 L952.0 1000.0 L954.6 1001.4 L957.3 1002.7 L960.0 1003.9 L962.4 1004.9 L964.8 1006.0 L967.3 1007.0 L969.8 1008.1 L972.3 1009.1 L974.8 1010.0 L977.4 1010.9 L979.9 1011.7 L982.5 1012.4 L984.8 1012.9 L986.5 1013.2 L988.1 1013.4 L989.7 1013.7 L991.5 1014.0 L993.3 1014.2 L995.3 1014.2 L997.4 1014.1 L999.6 1013.8 L1001.9 1013.0 L1004.2 1011.9 L1006.5 1010.2 L1008.4 1008.3 L1010.0 1006.2 L1011.4 1004.0 L1012.6 1001.7 L1013.6 999.4 L1014.6 997.1 L1015.4 994.7 L1016.1 992.4 L1016.9 989.9 L1017.7 986.3 L1018.3 982.5 L1018.8 978.7 L1019.0 974.7 L1019.2 970.7 L1019.3 966.6 L1019.3 962.4 L1019.3 958.2 L1019.4 953.9 L1019.5 949.6 L1019.6 943.3 L1019.7 936.5 L1019.7 929.3 L1019.6 922.0 L1019.5 914.5 L1019.4 907.1 L1019.4 899.8 L1019.3 892.7 L1019.4 885.9 L1019.5 879.7 L1019.7 875.2 L1020.0 870.8 L1020.3 866.4 L1020.7 862.2 L1021.0 858.0 L1021.4 853.8 L1021.7 849.7 L1021.8 845.5 L1021.9 841.4 L1021.8 837.4 L1021.5 834.0 L1021.1 830.8 L1020.5 827.8 L1019.9 825.0 L1019.2 822.3 L1018.6 819.7 L1018.0 817.2 L1017.6 814.7 L1017.2 812.2 L1017.0 809.7 L1017.0 806.6 L1017.2 803.5 L1017.6 800.1 L1018.2 796.7 L1018.7 793.1 L1019.3 789.5 L1019.9 785.9 L1020.3 782.2 L1020.5 778.5 L1020.5 774.9 L1020.2 771.8 L1019.8 768.8 L1019.2 765.9 L1018.6 763.1 L1017.8 760.3 L1017.1 757.6 L1016.3 754.9 L1015.5 752.2 L1014.7 749.5 L1014.0 746.8 Z" fill="#84c55a"/>
<path d="M1073.5 1762.6 L1072.7 1764.8 L1071.8 1767.0 L1071.0 1769.2 L1070.2 1771.4 L1069.3 1773.6 L1068.5 1775.7 L1067.7 1777.8 L1066.8 1779.9 L1066.0 1781.8 L1065.1 1783.7 L1064.3 1785.5 L1063.5 1787.2 L1062.7 1789.0 L1061.9 1790.7 L1061.2 1792.3 L1060.4 1794.0 L1059.5 1795.5 L1058.7 1797.1 L1057.7 1798.6 L1056.8 1800.0 L1055.8 1801.2 L1054.7 1802.5 L1053.5 1803.7 L1052.2 1805.0 L1050.9 1806.2 L1049.6 1807.5 L1048.1 1808.8 L1046.7 1810.1 L1045.3 1811.4 L1043.9 1812.8 L1050.1 1819.2 L1051.5 1817.9 L1052.8 1816.7 L1054.2 1815.4 L1055.6 1814.2 L1057.1 1812.8 L1058.5 1811.5 L1060.0 1810.0 L1061.4 1808.5 L1062.8 1806.9 L1064.0 1805.2 L1065.2 1803.5 L1066.4 1801.7 L1067.4 1800.0 L1068.4 1798.1 L1069.3 1796.3 L1070.2 1794.4 L1071.0 1792.5 L1071.8 1790.6 L1072.5 1788.7 L1073.1 1786.7 L1073.7 1784.4 L1074.2 1782.1 L1074.6 1779.7 L1075.0 1777.4 L1075.2 1775.0 L1075.5 1772.7 L1075.7 1770.3 L1075.9 1768.0 L1076.2 1765.7 L1076.5 1763.4 A1.50 1.50 0 0 0 1073.5 1762.6 Z" fill="#b9613e"/>
<path d="M975.7 1387.0 L976.7 1385.9 L977.7 1384.8 L978.7 1383.6 L979.6 1382.5 L980.6 1381.4 L981.7 1380.3 L982.8 1379.4 L984.0 1378.5 L985.4 1377.7 L986.8 1376.8 L988.3 1376.0 L989.9 1375.3 L991.5 1374.7 L993.1 1374.3 L994.7 1374.0 L996.2 1373.9 L997.7 1374.0 L999.2 1374.3 L1000.8 1374.7 L1002.3 1375.3 L1003.8 1376.0 L1005.3 1376.8 L1006.7 1377.6 L1008.0 1378.5 L1009.3 1379.5 L1010.5 1380.7 L1011.6 1382.0 L1012.7 1383.4 L1013.8 1384.8 L1014.8 1386.2 L1015.9 1387.6 L1017.0 1389.0 L1016.7 1396.9 L1016.4 1404.6 L1016.1 1412.3 L1015.7 1420.0 L1015.4 1427.8 L1015.1 1435.8 L1014.8 1444.2 L1014.5 1453.0 L1014.1 1465.4 L1013.6 1479.0 L1013.2 1493.4 L1012.8 1508.0 L1012.3 1522.5 L1012.0 1536.2 L1011.6 1548.9 L1011.4 1560.0 L1011.3 1566.0 L1011.3 1571.5 L1011.3 1576.7 L1011.3 1581.6 L1011.3 1586.3 L1011.2 1590.9 L1011.1 1595.4 L1011.0 1600.0 L1010.8 1603.9 L1010.6 1607.6 L1010.4 1611.2 L1010.2 1614.8 L1009.9 1618.3 L1009.6 1621.9 L1009.3 1625.6 L1009.0 1629.5 L1008.6 1634.2 L1008.2 1639.0 L1007.7 1643.9 L1007.3 1649.0 L1006.7 1654.0 L1006.2 1659.0 L1005.6 1664.0 L1005.0 1668.8 L1004.4 1673.2 L1003.7 1677.5 L1003.0 1681.8 L1002.3 1686.1 L1001.5 1690.3 L1000.7 1694.6 L1000.0 1698.9 L999.2 1703.3 L998.4 1708.1 L997.5 1712.9 L996.7 1717.9 L995.8 1722.8 L994.9 1727.8 L994.0 1732.7 L993.2 1737.7 L992.3 1742.6 L992.7 1742.9 L993.1 1743.1 L993.5 1743.4 L993.9 1743.7 L994.3 1743.9 L994.7 1744.2 L995.1 1744.5 L995.5 1744.8 L995.9 1745.2 L996.3 1745.5 L996.7 1745.9 L997.1 1746.3 L997.5 1746.8 L997.8 1747.2 L998.2 1747.6 L998.6 1748.0 L999.0 1749.3 L999.4 1750.6 L999.8 1752.0 L1000.2 1753.3 L1000.6 1754.6 L1001.1 1755.9 L1001.6 1757.3 L1002.1 1758.6 L1002.7 1760.1 L1003.4 1761.7 L1004.1 1763.2 L1004.9 1764.8 L1005.7 1766.4 L1006.5 1767.9 L1007.4 1769.5 L1008.3 1771.0 L1009.3 1772.6 L1010.3 1774.2 L1011.4 1775.8 L1012.5 1777.4 L1013.7 1778.9 L1014.9 1780.5 L1016.2 1782.0 L1017.6 1783.5 L1019.3 1785.1 L1021.0 1786.7 L1022.9 1788.2 L1024.8 1789.6 L1026.8 1791.1 L1028.9 1792.6 L1031.0 1794.2 L1033.2 1795.9 L1036.3 1798.2 L1039.6 1800.6 L1043.1 1803.0 L1046.7 1805.6 L1050.3 1808.2 L1053.8 1810.8 L1057.0 1813.6 L1060.0 1816.4 L1062.4 1819.0 L1064.6 1821.6 L1066.7 1824.3 L1068.7 1827.0 L1070.6 1829.8 L1072.5 1832.7 L1074.4 1835.7 L1076.4 1838.8 L1078.9 1842.7 L1081.7 1847.1 L1084.6 1851.7 L1087.4 1856.3 L1090.0 1860.8 L1092.3 1865.1 L1094.1 1869.0 L1095.2 1872.2 L1095.5 1873.5 L1095.6 1874.7 L1095.6 1875.8 L1095.6 1876.8 L1095.5 1877.8 L1095.3 1878.8 L1095.2 1879.8 L1095.2 1880.9 L1094.9 1880.9 L1094.5 1881.0 L1094.2 1881.1 L1093.9 1881.1 L1093.5 1881.2 L1093.2 1881.1 L1092.8 1881.1 L1092.3 1880.9 L1089.8 1879.0 L1086.4 1875.5 L1082.4 1870.8 L1077.9 1865.3 L1073.2 1859.5 L1068.5 1853.8 L1064.0 1848.5 L1060.0 1844.3 L1057.3 1841.7 L1054.7 1839.4 L1052.1 1837.2 L1049.6 1835.1 L1047.1 1833.1 L1044.5 1831.1 L1042.0 1829.1 L1039.4 1827.0 L1036.7 1824.9 L1033.9 1822.7 L1031.1 1820.6 L1028.3 1818.5 L1025.5 1816.4 L1022.8 1814.3 L1020.1 1812.3 L1017.6 1810.2 L1015.5 1808.4 L1013.4 1806.6 L1011.3 1804.8 L1009.3 1803.0 L1007.4 1801.3 L1005.5 1799.5 L1003.8 1797.7 L1002.1 1795.9 L1000.8 1794.4 L999.5 1792.8 L998.3 1791.3 L997.1 1789.7 L996.0 1788.2 L995.0 1786.6 L993.9 1785.1 L992.8 1783.5 L991.7 1781.9 L990.7 1780.4 L989.7 1778.8 L988.7 1777.2 L987.7 1775.6 L986.8 1774.0 L985.8 1772.4 L984.8 1770.8 L983.9 1772.4 L983.0 1774.0 L982.0 1775.6 L981.1 1777.1 L980.2 1778.7 L979.3 1780.3 L978.3 1781.9 L977.3 1783.5 L976.2 1785.2 L975.2 1786.9 L974.1 1788.6 L973.0 1790.3 L971.9 1792.1 L970.7 1793.8 L969.4 1795.4 L968.0 1797.1 L966.4 1798.9 L964.7 1800.7 L962.9 1802.4 L961.0 1804.2 L959.0 1805.9 L957.0 1807.7 L954.7 1809.5 L952.4 1811.4 L948.7 1814.3 L944.5 1817.4 L940.0 1820.6 L935.3 1823.9 L930.6 1827.1 L925.8 1830.4 L921.3 1833.5 L917.0 1836.5 L913.5 1838.9 L910.1 1841.3 L906.7 1843.6 L903.3 1845.9 L900.1 1848.2 L896.9 1850.4 L893.9 1852.6 L890.9 1854.8 L888.5 1856.6 L886.2 1858.3 L884.0 1859.9 L881.9 1861.6 L879.8 1863.3 L877.7 1865.1 L875.6 1867.1 L873.5 1869.3 L870.7 1872.6 L868.0 1876.2 L865.2 1880.2 L862.5 1884.3 L859.8 1888.6 L857.1 1892.9 L854.4 1897.1 L851.7 1901.2 L851.4 1901.2 L851.1 1901.3 L850.8 1901.3 L850.5 1901.4 L850.3 1901.4 L850.0 1901.4 L849.8 1901.4 L849.6 1901.2 L849.3 1899.8 L849.4 1897.2 L849.9 1893.8 L850.8 1889.8 L851.9 1885.5 L853.2 1881.2 L854.6 1877.1 L856.1 1873.6 L857.7 1870.5 L859.5 1867.5 L861.5 1864.5 L863.7 1861.7 L866.0 1858.8 L868.4 1856.0 L870.9 1853.2 L873.5 1850.4 L876.7 1847.1 L880.1 1843.7 L883.6 1840.3 L887.3 1837.0 L891.1 1833.7 L894.9 1830.5 L898.7 1827.3 L902.5 1824.3 L906.1 1821.5 L909.8 1818.8 L913.6 1816.2 L917.3 1813.6 L921.0 1811.1 L924.6 1808.7 L928.1 1806.3 L931.4 1804.0 L933.9 1802.2 L936.3 1800.6 L938.7 1798.9 L941.1 1797.3 L943.3 1795.8 L945.4 1794.2 L947.4 1792.6 L949.3 1791.0 L950.7 1789.7 L952.0 1788.4 L953.2 1787.1 L954.4 1785.8 L955.5 1784.5 L956.6 1783.2 L957.6 1781.8 L958.6 1780.4 L959.5 1778.9 L960.4 1777.4 L961.2 1775.9 L962.0 1774.3 L962.7 1772.8 L963.4 1771.2 L964.1 1769.6 L964.8 1768.0 L965.4 1766.4 L966.1 1764.9 L966.7 1763.3 L967.3 1761.7 L967.8 1760.1 L968.3 1758.6 L968.8 1757.0 L969.2 1755.5 L969.5 1754.2 L969.8 1752.8 L970.0 1751.5 L970.2 1750.2 L970.4 1748.9 L970.6 1747.6 L970.8 1746.3 L971.0 1745.0 L971.8 1744.5 L972.7 1744.0 L973.6 1743.5 L974.5 1743.0 L975.3 1742.6 L976.1 1742.1 L976.8 1741.6 L977.3 1741.2 L977.5 1741.0 L977.7 1740.8 L977.9 1740.6 L978.0 1740.4 L978.1 1740.2 L978.2 1740.0 L978.4 1739.8 L978.5 1739.6 L978.1 1734.5 L977.6 1729.4 L977.2 1724.3 L976.7 1719.2 L976.3 1714.1 L975.9 1708.9 L975.5 1703.6 L975.1 1698.3 L974.7 1692.4 L974.4 1686.3 L974.1 1680.2 L973.8 1674.0 L973.5 1667.8 L973.2 1661.6 L972.9 1655.4 L972.6 1649.2 L972.3 1643.0 L971.9 1636.8 L971.5 1630.5 L971.2 1624.3 L970.8 1618.1 L970.6 1611.9 L970.3 1605.9 L970.2 1600.0 L970.2 1594.9 L970.2 1590.1 L970.3 1585.5 L970.4 1580.8 L970.5 1576.1 L970.7 1571.1 L970.9 1565.8 L971.0 1560.0 L971.2 1549.9 L971.4 1538.6 L971.7 1526.4 L971.9 1513.7 L972.2 1500.7 L972.5 1487.8 L972.8 1475.3 L973.1 1463.5 L973.4 1453.5 L973.7 1443.8 L974.0 1434.2 L974.4 1424.7 L974.7 1415.3 L975.0 1405.9 L975.4 1396.5 L975.7 1387.0 Z" fill="#3786c4"/>
<path d="M895.4 1399.4 L894.5 1405.3 L893.7 1411.1 L892.8 1416.9 L892.0 1422.6 L891.1 1428.4 L890.3 1434.3 L889.4 1440.3 L888.6 1446.4 L887.8 1452.8 L887.0 1459.5 L886.0 1468.7 L885.0 1478.4 L884.1 1488.6 L883.2 1499.0 L882.3 1509.7 L881.4 1520.3 L880.5 1530.9 L879.6 1541.2 L878.8 1551.2 L877.9 1560.6 L877.2 1568.1 L876.5 1575.4 L875.7 1582.6 L875.0 1589.6 L874.3 1596.5 L873.5 1603.4 L872.9 1610.2 L872.2 1616.9 L871.6 1623.7 L871.0 1630.5 L870.5 1636.8 L870.0 1643.1 L869.5 1649.3 L869.1 1655.4 L868.7 1661.6 L868.3 1667.8 L867.9 1673.9 L867.7 1680.2 L867.4 1686.5 L867.3 1692.9 L867.1 1699.9 L867.0 1707.0 L867.0 1714.3 L867.0 1721.7 L867.1 1729.1 L867.2 1736.4 L867.4 1743.6 L867.7 1750.6 L868.1 1757.3 L868.6 1763.7 L869.0 1768.6 L869.5 1773.3 L870.1 1777.9 L870.7 1782.5 L871.3 1786.9 L872.0 1791.2 L872.8 1795.4 L873.7 1799.5 L874.6 1803.6 L875.6 1807.5 L876.6 1810.8 L877.6 1814.1 L878.7 1817.3 L879.8 1820.5 L881.0 1823.6 L882.2 1826.6 L883.4 1829.4 L884.6 1832.0 L885.7 1834.4 L886.9 1836.6 L887.6 1837.7 L888.3 1838.7 L889.0 1839.7 L889.7 1840.5 L890.4 1841.3 L891.1 1842.1 L891.8 1842.8 L892.4 1843.6 L893.1 1844.3 L893.8 1845.1 L894.2 1844.9 L893.7 1843.9 L893.2 1843.0 L892.6 1842.2 L892.1 1841.3 L891.6 1840.4 L891.1 1839.6 L890.6 1838.6 L890.1 1837.7 L889.6 1836.6 L889.1 1835.4 L888.2 1833.3 L887.2 1830.8 L886.2 1828.2 L885.2 1825.4 L884.3 1822.4 L883.3 1819.3 L882.4 1816.2 L881.5 1812.9 L880.7 1809.7 L880.0 1806.5 L879.2 1802.6 L878.5 1798.6 L877.9 1794.6 L877.3 1790.4 L876.8 1786.2 L876.4 1781.8 L876.0 1777.3 L875.7 1772.8 L875.3 1768.1 L875.0 1763.3 L874.7 1756.9 L874.5 1750.3 L874.3 1743.4 L874.2 1736.3 L874.1 1729.0 L874.2 1721.7 L874.3 1714.4 L874.4 1707.1 L874.5 1700.0 L874.7 1693.1 L875.0 1686.8 L875.3 1680.5 L875.6 1674.4 L876.0 1668.2 L876.5 1662.1 L876.9 1656.0 L877.4 1649.9 L877.9 1643.7 L878.5 1637.5 L879.0 1631.1 L879.6 1624.4 L880.2 1617.7 L880.8 1610.9 L881.5 1604.2 L882.2 1597.4 L882.9 1590.5 L883.7 1583.4 L884.4 1576.3 L885.1 1568.9 L885.9 1561.4 L886.8 1551.9 L887.7 1541.9 L888.6 1531.6 L889.5 1521.0 L890.5 1510.4 L891.4 1499.8 L892.4 1489.3 L893.4 1479.2 L894.4 1469.6 L895.4 1460.5 L896.2 1453.9 L897.0 1447.5 L897.9 1441.4 L898.7 1435.5 L899.6 1429.6 L900.4 1423.9 L901.3 1418.1 L902.1 1412.4 L903.0 1406.5 L903.8 1400.6 Z" fill="#7bb99b"/>
<path d="M1072.5 1404.4 L1073.1 1409.9 L1073.6 1415.3 L1074.2 1420.6 L1074.7 1425.8 L1075.2 1431.1 L1075.8 1436.6 L1076.4 1442.1 L1077.0 1447.9 L1077.6 1454.0 L1078.3 1460.4 L1079.5 1470.5 L1080.7 1481.5 L1082.1 1493.2 L1083.5 1505.4 L1085.0 1517.9 L1086.5 1530.4 L1087.9 1542.8 L1089.3 1554.8 L1090.6 1566.3 L1091.8 1576.9 L1092.6 1584.6 L1093.4 1592.1 L1094.2 1599.3 L1095.0 1606.3 L1095.8 1613.2 L1096.5 1620.0 L1097.1 1626.6 L1097.7 1633.3 L1098.3 1639.9 L1098.8 1646.7 L1099.2 1653.0 L1099.5 1659.2 L1099.8 1665.4 L1100.1 1671.5 L1100.3 1677.6 L1100.5 1683.7 L1100.7 1689.8 L1100.8 1696.0 L1101.0 1702.2 L1101.1 1708.5 L1101.1 1715.4 L1101.2 1722.4 L1101.2 1729.6 L1101.2 1736.8 L1101.2 1744.0 L1101.1 1751.1 L1101.0 1758.1 L1100.8 1764.9 L1100.5 1771.5 L1100.2 1777.8 L1100.0 1782.6 L1099.7 1787.3 L1099.5 1791.9 L1099.2 1796.4 L1098.9 1800.8 L1098.5 1805.0 L1098.1 1809.2 L1097.5 1813.2 L1096.8 1817.0 L1095.9 1820.8 L1095.1 1823.8 L1094.1 1826.7 L1093.1 1829.5 L1091.9 1832.2 L1090.7 1835.0 L1089.4 1837.7 L1088.1 1840.4 L1086.8 1843.1 L1085.5 1845.9 L1084.3 1848.7 L1085.7 1849.3 L1087.2 1846.7 L1088.7 1844.1 L1090.3 1841.6 L1091.8 1839.0 L1093.4 1836.4 L1095.0 1833.8 L1096.4 1831.0 L1097.8 1828.2 L1099.1 1825.2 L1100.3 1822.0 L1101.4 1818.1 L1102.3 1814.1 L1103.1 1809.9 L1103.7 1805.7 L1104.2 1801.3 L1104.7 1796.9 L1105.1 1792.3 L1105.4 1787.7 L1105.8 1783.0 L1106.2 1778.2 L1106.7 1771.9 L1107.1 1765.2 L1107.5 1758.4 L1107.8 1751.3 L1108.0 1744.1 L1108.2 1736.9 L1108.4 1729.6 L1108.5 1722.4 L1108.5 1715.4 L1108.5 1708.5 L1108.5 1702.1 L1108.4 1695.8 L1108.3 1689.6 L1108.1 1683.5 L1107.9 1677.3 L1107.7 1671.2 L1107.4 1665.0 L1107.0 1658.8 L1106.7 1652.5 L1106.2 1646.1 L1105.7 1639.4 L1105.2 1632.6 L1104.6 1625.9 L1103.9 1619.2 L1103.2 1612.4 L1102.4 1605.5 L1101.7 1598.5 L1100.9 1591.3 L1100.1 1583.8 L1099.2 1576.1 L1098.1 1565.4 L1096.8 1554.0 L1095.5 1542.0 L1094.1 1529.6 L1092.7 1517.0 L1091.3 1504.5 L1089.9 1492.3 L1088.6 1480.6 L1087.4 1469.6 L1086.3 1459.6 L1085.6 1453.2 L1085.0 1447.1 L1084.4 1441.3 L1083.8 1435.7 L1083.2 1430.3 L1082.7 1425.0 L1082.1 1419.8 L1081.6 1414.5 L1081.0 1409.1 L1080.5 1403.6 Z" fill="#7bb99b"/>
<path d="M898.5 1763.7 L898.5 1765.5 L898.5 1767.3 L898.4 1769.0 L898.3 1770.8 L898.2 1772.6 L898.2 1774.5 L898.2 1776.3 L898.3 1778.2 L898.6 1780.2 L898.9 1782.1 L899.4 1784.1 L900.0 1786.2 L900.7 1788.3 L901.5 1790.3 L902.3 1792.4 L903.2 1794.4 L904.2 1796.4 L905.2 1798.4 L906.3 1800.3 L907.4 1802.1 L908.5 1803.8 L909.7 1805.3 L910.9 1806.8 L912.2 1808.1 L913.4 1809.4 L914.7 1810.6 L915.9 1811.8 L917.1 1813.0 L918.2 1814.2 L919.4 1815.4 A4.25 4.25 0 0 0 925.6 1809.6 L924.5 1808.3 L923.3 1807.0 L922.1 1805.8 L920.9 1804.5 L919.8 1803.3 L918.7 1802.1 L917.7 1800.9 L916.7 1799.7 L915.8 1798.5 L915.0 1797.3 L914.1 1795.8 L913.2 1794.1 L912.3 1792.4 L911.5 1790.6 L910.7 1788.8 L909.9 1787.0 L909.2 1785.1 L908.5 1783.3 L907.8 1781.5 L907.1 1779.7 L906.5 1778.2 L905.9 1776.6 L905.3 1775.0 L904.8 1773.4 L904.2 1771.8 L903.7 1770.1 L903.1 1768.4 L902.6 1766.7 L902.0 1765.0 L901.5 1763.3 A1.50 1.50 0 0 0 898.5 1763.7 Z" fill="#b9613e"/>
<path d="M746.1 1430.0 L748.6 1429.7 L751.1 1429.4 L753.7 1429.2 L756.2 1428.9 L758.7 1428.6 L761.3 1428.3 L763.8 1428.0 L766.3 1427.6 L768.9 1427.2 L771.5 1426.7 L774.2 1426.2 L776.9 1425.6 L779.7 1424.9 L782.4 1424.3 L785.2 1423.6 L787.9 1422.9 L790.6 1422.1 L793.3 1421.4 L796.0 1420.7 L798.7 1420.1 L801.4 1419.4 L804.0 1418.7 L806.6 1418.0 L809.2 1417.4 L811.8 1416.7 L814.4 1416.0 L817.1 1415.4 L819.8 1414.7 L822.5 1414.1 L825.4 1413.4 L828.7 1412.7 L832.2 1412.0 L835.8 1411.2 L839.4 1410.5 L843.0 1409.8 L846.7 1409.1 L850.3 1408.5 L853.9 1407.8 L857.4 1407.3 L860.8 1406.7 L863.9 1406.3 L866.9 1405.9 L869.8 1405.5 L872.8 1405.2 L875.7 1404.9 L878.6 1404.6 L881.6 1404.3 L884.5 1404.0 L887.5 1403.7 L890.4 1403.5 L893.4 1403.3 L896.4 1403.0 L899.3 1402.9 L902.3 1402.7 L905.3 1402.5 L908.3 1402.4 L911.3 1402.3 L914.3 1402.1 L917.3 1402.0 L920.3 1401.8 A5.50 5.50 0 0 0 919.7 1390.8 L916.7 1391.0 L913.7 1391.1 L910.7 1391.3 L907.7 1391.4 L904.7 1391.6 L901.7 1391.7 L898.7 1391.9 L895.6 1392.1 L892.6 1392.3 L889.6 1392.5 L886.6 1392.8 L883.6 1393.0 L880.6 1393.2 L877.6 1393.5 L874.6 1393.8 L871.6 1394.1 L868.5 1394.4 L865.4 1394.8 L862.3 1395.2 L859.2 1395.7 L855.6 1396.2 L852.0 1396.9 L848.3 1397.6 L844.6 1398.3 L840.9 1399.0 L837.2 1399.8 L833.5 1400.6 L829.9 1401.4 L826.4 1402.2 L823.0 1403.0 L820.1 1403.6 L817.3 1404.3 L814.6 1405.0 L811.8 1405.6 L809.2 1406.3 L806.5 1407.0 L803.9 1407.7 L801.2 1408.4 L798.6 1409.1 L795.9 1409.9 L793.2 1410.8 L790.5 1411.6 L787.7 1412.5 L785.0 1413.5 L782.4 1414.4 L779.7 1415.3 L777.1 1416.3 L774.4 1417.3 L771.9 1418.3 L769.3 1419.3 L766.9 1420.2 L764.5 1421.2 L762.2 1422.2 L759.9 1423.3 L757.5 1424.3 L755.2 1425.4 L752.9 1426.4 L750.6 1427.5 L748.3 1428.5 L745.9 1429.6 Z" fill="#e9383f"/>
<path d="M1056.0 1408.3 L1056.5 1408.3 L1056.9 1408.3 L1057.3 1408.3 L1057.7 1408.3 L1058.1 1408.3 L1058.5 1408.3 L1058.9 1408.3 L1059.4 1408.3 L1059.9 1408.3 L1060.6 1408.3 L1063.0 1408.4 L1066.2 1408.5 L1069.9 1408.6 L1074.1 1408.8 L1078.6 1409.0 L1083.3 1409.3 L1088.1 1409.6 L1092.7 1410.0 L1097.2 1410.4 L1101.4 1410.9 L1105.4 1411.5 L1109.5 1412.1 L1113.5 1412.8 L1117.6 1413.6 L1121.7 1414.5 L1125.8 1415.3 L1129.9 1416.2 L1134.0 1417.2 L1138.2 1418.1 L1142.3 1419.1 L1146.5 1420.0 L1150.7 1421.1 L1155.0 1422.2 L1159.3 1423.3 L1163.5 1424.5 L1167.7 1425.6 L1171.9 1426.7 L1175.9 1427.7 L1179.9 1428.7 L1183.6 1429.6 L1186.4 1430.3 L1189.1 1430.8 L1191.8 1431.4 L1194.4 1431.9 L1196.9 1432.3 L1199.4 1432.8 L1201.8 1433.2 L1204.3 1433.6 L1206.7 1434.0 L1209.1 1434.4 L1211.3 1434.7 L1213.4 1435.0 L1215.6 1435.3 L1217.7 1435.5 L1219.8 1435.8 L1222.0 1436.0 L1224.1 1436.3 L1226.2 1436.5 L1228.3 1436.8 L1230.4 1437.0 L1230.6 1436.6 L1228.6 1435.7 L1226.7 1434.8 L1224.8 1433.8 L1222.9 1432.9 L1220.9 1432.0 L1219.0 1431.1 L1217.0 1430.2 L1215.0 1429.3 L1213.0 1428.5 L1210.9 1427.6 L1208.6 1426.8 L1206.2 1425.9 L1203.9 1425.1 L1201.5 1424.3 L1199.1 1423.5 L1196.7 1422.7 L1194.2 1421.9 L1191.6 1421.1 L1188.9 1420.4 L1186.2 1419.6 L1182.5 1418.5 L1178.6 1417.5 L1174.6 1416.4 L1170.4 1415.3 L1166.2 1414.2 L1161.9 1413.1 L1157.6 1412.0 L1153.2 1411.0 L1148.9 1409.9 L1144.7 1408.9 L1140.6 1408.0 L1136.4 1407.0 L1132.3 1406.0 L1128.1 1405.0 L1124.0 1404.0 L1119.8 1403.1 L1115.6 1402.2 L1111.3 1401.4 L1107.1 1400.7 L1102.8 1400.1 L1098.4 1399.6 L1093.6 1399.2 L1088.8 1398.8 L1083.9 1398.6 L1079.1 1398.4 L1074.5 1398.2 L1070.3 1398.1 L1066.5 1398.0 L1063.3 1398.0 L1060.8 1397.9 L1060.2 1397.9 L1059.5 1397.9 L1059.0 1397.9 L1058.5 1397.9 L1058.0 1397.9 L1057.6 1397.9 L1057.2 1397.9 L1056.8 1397.9 L1056.4 1397.9 L1056.0 1397.9 A5.20 5.20 0 0 0 1056.0 1408.3 Z" fill="#e9383f"/>
</g>
<g id="lines">
<path d="M854.6 439.9 L855.5 439.3 L856.4 438.7 L857.2 438.1 L858.1 437.5 L858.9 436.9 L859.8 436.3 L860.6 435.7 L861.5 435.0 L862.4 434.2 L863.4 433.3 L864.9 431.9 L866.4 430.3 L868.0 428.6 L869.7 426.8 L871.4 424.9 L873.2 423.0 L875.0 421.0 L876.8 419.0 L878.7 417.0 L880.6 415.0 L882.9 412.6 L885.2 410.1 L887.6 407.5 L890.1 404.9 L892.6 402.2 L895.1 399.5 L897.6 396.8 L900.1 394.1 L902.6 391.5 L905.1 388.8 A2.50 2.50 0 0 0 901.5 385.4 L899.0 388.0 L896.5 390.7 L894.0 393.4 L891.4 396.1 L888.9 398.8 L886.4 401.4 L884.0 404.1 L881.6 406.6 L879.2 409.2 L876.9 411.6 L875.0 413.6 L873.2 415.6 L871.3 417.5 L869.4 419.5 L867.6 421.4 L865.9 423.2 L864.2 425.0 L862.6 426.7 L861.1 428.4 L859.7 429.9 L859.0 430.9 L858.3 431.9 L857.6 432.8 L857.0 433.7 L856.5 434.6 L855.9 435.5 L855.4 436.4 L854.9 437.3 L854.3 438.2 L853.8 439.1 Z" fill="#fff"/>
<path d="M854.3 439.6 L855.1 438.9 L855.9 438.3 L856.7 437.6 L857.5 437.0 L858.3 436.4 L859.1 435.7 L859.9 435.0 L860.8 434.3 L861.7 433.5 L862.6 432.6 L864.0 431.1 L865.6 429.5 L867.2 427.8 L868.9 426.0 L870.6 424.2 L872.4 422.2 L874.2 420.3 L876.0 418.3 L877.9 416.3 L879.8 414.3 L882.0 411.8 L884.4 409.3 L886.8 406.7 L889.3 404.1 L891.8 401.4 L894.3 398.8 L896.8 396.1 L899.3 393.4 L901.8 390.7 L904.3 388.1 A1.40 1.40 0 0 0 902.3 386.1 L899.8 388.8 L897.3 391.5 L894.8 394.1 L892.2 396.8 L889.7 399.5 L887.2 402.2 L884.8 404.8 L882.4 407.4 L880.0 409.9 L877.7 412.3 L875.8 414.3 L874.0 416.3 L872.1 418.3 L870.2 420.2 L868.4 422.1 L866.7 424.0 L865.0 425.8 L863.4 427.5 L861.9 429.1 L860.5 430.7 L859.7 431.7 L859.0 432.6 L858.3 433.5 L857.7 434.3 L857.1 435.2 L856.5 436.0 L855.9 436.9 L855.3 437.7 L854.7 438.5 L854.1 439.4 Z" fill="#1c1c1c"/>
<path d="M995.1 441.2 L994.7 440.3 L994.4 439.4 L994.1 438.6 L993.8 437.7 L993.4 436.8 L993.1 436.0 L992.7 435.1 L992.3 434.2 L991.9 433.2 L991.3 432.2 L990.4 430.7 L989.3 429.0 L988.2 427.3 L986.9 425.5 L985.7 423.7 L984.3 421.7 L983.0 419.8 L981.6 417.8 L980.2 415.8 L978.9 413.8 L977.2 411.4 L975.5 408.9 L973.8 406.3 L972.0 403.7 L970.2 401.0 L968.3 398.3 L966.5 395.6 L964.7 392.9 L962.9 390.2 L961.1 387.6 A2.50 2.50 0 0 0 956.9 390.4 L958.7 393.0 L960.5 395.7 L962.4 398.4 L964.2 401.1 L966.0 403.8 L967.8 406.5 L969.6 409.1 L971.4 411.7 L973.1 414.2 L974.7 416.7 L976.1 418.7 L977.4 420.7 L978.7 422.7 L980.0 424.7 L981.3 426.6 L982.6 428.5 L983.8 430.3 L985.0 432.0 L986.1 433.6 L987.2 435.0 L987.9 435.9 L988.6 436.7 L989.3 437.4 L990.0 438.1 L990.7 438.7 L991.4 439.3 L992.1 439.9 L992.7 440.5 L993.4 441.2 L994.1 441.8 Z" fill="#fff"/>
<path d="M994.7 441.4 L994.3 440.6 L993.9 439.7 L993.5 438.9 L993.2 438.1 L992.8 437.3 L992.4 436.5 L992.0 435.6 L991.5 434.7 L991.0 433.8 L990.4 432.8 L989.4 431.3 L988.4 429.7 L987.2 427.9 L986.0 426.1 L984.7 424.3 L983.4 422.4 L982.1 420.4 L980.7 418.5 L979.3 416.5 L978.0 414.5 L976.3 412.0 L974.6 409.5 L972.9 406.9 L971.1 404.3 L969.3 401.6 L967.4 398.9 L965.6 396.2 L963.8 393.5 L962.0 390.9 L960.2 388.2 A1.40 1.40 0 0 0 957.8 389.8 L959.6 392.4 L961.5 395.1 L963.3 397.8 L965.1 400.5 L966.9 403.2 L968.7 405.9 L970.5 408.5 L972.3 411.1 L974.0 413.6 L975.6 416.0 L977.0 418.0 L978.3 420.1 L979.7 422.1 L981.0 424.0 L982.3 426.0 L983.5 427.8 L984.7 429.6 L985.9 431.3 L987.0 432.9 L988.1 434.4 L988.8 435.3 L989.5 436.1 L990.1 436.9 L990.7 437.6 L991.4 438.2 L992.0 438.9 L992.6 439.6 L993.2 440.2 L993.8 440.9 L994.5 441.6 Z" fill="#1c1c1c"/>
<path d="M876.1 491.4 L871.7 491.7 L867.4 492.1 L863.2 492.3 L858.9 492.6 L854.7 492.9 L850.3 493.2 L845.9 493.6 L841.2 494.0 L836.2 494.4 L830.9 494.9 L822.3 495.9 L813.0 497.0 L803.2 498.1 L793.0 499.4 L782.4 500.7 L771.4 502.0 L760.2 503.4 L748.9 504.8 L737.4 506.2 L726.0 507.6 L712.1 509.3 L697.7 511.0 L683.0 512.8 L668.0 514.6 L652.7 516.5 L637.3 518.3 L621.9 520.2 L606.5 522.0 L591.2 523.9 L576.1 525.7 A2.50 2.50 0 0 0 576.7 530.7 L591.8 528.9 L607.1 527.0 L622.5 525.2 L637.9 523.3 L653.3 521.4 L668.6 519.6 L683.6 517.8 L698.3 516.0 L712.7 514.3 L726.6 512.6 L738.0 511.2 L749.5 509.8 L760.8 508.5 L772.0 507.2 L783.0 505.9 L793.6 504.6 L803.9 503.4 L813.7 502.2 L822.9 501.0 L831.5 499.9 L836.8 499.2 L841.7 498.4 L846.3 497.7 L850.8 497.0 L855.1 496.2 L859.3 495.5 L863.4 494.8 L867.6 494.0 L871.9 493.3 L876.3 492.6 Z" fill="#fff"/>
<path d="M876.2 491.9 L871.8 492.3 L867.5 492.6 L863.2 493.0 L859.0 493.4 L854.8 493.7 L850.5 494.1 L846.0 494.5 L841.3 495.0 L836.3 495.5 L831.1 496.0 L822.4 497.0 L813.2 498.1 L803.4 499.3 L793.1 500.5 L782.5 501.8 L771.5 503.2 L760.4 504.5 L749.0 505.9 L737.6 507.3 L726.1 508.7 L712.2 510.4 L697.9 512.1 L683.1 513.9 L668.1 515.7 L652.8 517.6 L637.5 519.4 L622.0 521.3 L606.6 523.1 L591.3 525.0 L576.2 526.8 A1.40 1.40 0 0 0 576.6 529.6 L591.7 527.8 L607.0 525.9 L622.4 524.1 L637.8 522.2 L653.2 520.3 L668.4 518.5 L683.5 516.7 L698.2 514.9 L712.6 513.2 L726.5 511.5 L737.9 510.1 L749.4 508.7 L760.7 507.4 L771.9 506.1 L782.8 504.8 L793.5 503.5 L803.7 502.3 L813.5 501.1 L822.8 499.9 L831.4 498.8 L836.6 498.1 L841.6 497.4 L846.2 496.7 L850.7 496.1 L855.0 495.4 L859.2 494.8 L863.4 494.1 L867.6 493.5 L871.8 492.8 L876.2 492.1 Z" fill="#1c1c1c"/>
<path d="M927.3 568.2 L930.3 568.3 L933.2 568.5 L936.0 568.7 L938.9 568.9 L941.7 569.0 L944.6 569.2 L947.7 569.3 L950.8 569.5 L954.1 569.5 L957.7 569.6 L963.5 569.6 L969.8 569.5 L976.4 569.4 L983.3 569.3 L990.5 569.2 L997.9 569.0 L1005.4 568.9 L1013.1 568.7 L1020.8 568.6 L1028.5 568.4 L1037.9 568.3 L1047.6 568.1 L1057.6 568.0 L1067.7 567.8 L1078.0 567.6 L1088.4 567.5 L1098.8 567.3 L1109.2 567.1 L1119.5 567.0 L1129.7 566.8 A2.50 2.50 0 0 0 1129.7 561.8 L1119.5 562.0 L1109.1 562.1 L1098.7 562.3 L1088.3 562.5 L1077.9 562.6 L1067.6 562.8 L1057.5 563.0 L1047.5 563.1 L1037.9 563.3 L1028.5 563.5 L1020.7 563.6 L1013.0 563.7 L1005.3 563.8 L997.8 563.9 L990.4 564.0 L983.2 564.1 L976.3 564.2 L969.7 564.3 L963.4 564.4 L957.6 564.6 L954.1 564.8 L950.7 565.0 L947.6 565.2 L944.6 565.4 L941.7 565.7 L938.8 566.0 L936.0 566.2 L933.2 566.5 L930.3 566.8 L927.3 567.0 Z" fill="#fff"/>
<path d="M927.3 567.7 L930.3 567.8 L933.2 567.9 L936.0 568.0 L938.8 568.1 L941.7 568.2 L944.6 568.3 L947.6 568.4 L950.8 568.4 L954.1 568.5 L957.7 568.5 L963.5 568.5 L969.8 568.4 L976.4 568.3 L983.3 568.2 L990.5 568.0 L997.9 567.9 L1005.4 567.8 L1013.1 567.6 L1020.8 567.5 L1028.5 567.3 L1037.9 567.2 L1047.6 567.0 L1057.6 566.9 L1067.7 566.7 L1078.0 566.5 L1088.4 566.4 L1098.8 566.2 L1109.2 566.0 L1119.5 565.9 L1129.7 565.7 A1.40 1.40 0 0 0 1129.7 562.9 L1119.5 563.1 L1109.1 563.2 L1098.8 563.4 L1088.3 563.6 L1078.0 563.7 L1067.7 563.9 L1057.5 564.1 L1047.6 564.2 L1037.9 564.4 L1028.5 564.6 L1020.7 564.7 L1013.0 564.8 L1005.4 564.9 L997.8 565.0 L990.4 565.1 L983.2 565.2 L976.3 565.3 L969.7 565.4 L963.5 565.6 L957.6 565.7 L954.1 565.8 L950.8 566.0 L947.6 566.2 L944.6 566.3 L941.7 566.5 L938.8 566.7 L936.0 566.9 L933.2 567.1 L930.3 567.3 L927.3 567.5 Z" fill="#1c1c1c"/>
<path d="M864.3 578.8 L861.0 580.0 L857.8 581.2 L854.6 582.4 L851.5 583.5 L848.3 584.7 L845.1 585.9 L841.8 587.2 L838.3 588.6 L834.6 590.0 L830.8 591.6 L824.5 594.4 L817.7 597.3 L810.6 600.5 L803.1 603.9 L795.4 607.3 L787.4 610.9 L779.3 614.6 L771.1 618.3 L762.8 622.0 L754.4 625.8 L744.3 630.3 L733.9 635.0 L723.1 639.8 L712.2 644.6 L701.1 649.6 L689.9 654.6 L678.7 659.6 L667.5 664.6 L656.4 669.6 L645.4 674.5 A2.50 2.50 0 0 0 647.4 679.1 L658.4 674.2 L669.5 669.2 L680.7 664.2 L692.0 659.2 L703.2 654.2 L714.2 649.2 L725.2 644.3 L735.9 639.5 L746.4 634.9 L756.5 630.3 L764.8 626.6 L773.1 622.9 L781.4 619.3 L789.5 615.6 L797.5 612.1 L805.3 608.7 L812.7 605.3 L819.8 602.1 L826.6 599.1 L832.8 596.2 L836.6 594.4 L840.1 592.7 L843.4 591.0 L846.6 589.3 L849.7 587.8 L852.7 586.2 L855.6 584.6 L858.6 583.0 L861.6 581.5 L864.7 579.8 Z" fill="#fff"/>
<path d="M864.4 579.2 L861.2 580.5 L858.0 581.7 L854.9 583.0 L851.8 584.2 L848.6 585.5 L845.5 586.7 L842.1 588.1 L838.7 589.5 L835.1 591.0 L831.2 592.6 L824.9 595.4 L818.2 598.4 L811.0 601.6 L803.6 604.9 L795.9 608.4 L787.9 611.9 L779.8 615.6 L771.5 619.3 L763.2 623.0 L754.9 626.8 L744.8 631.3 L734.3 636.0 L723.6 640.8 L712.7 645.6 L701.6 650.6 L690.4 655.6 L679.2 660.6 L667.9 665.6 L656.8 670.6 L645.8 675.5 A1.40 1.40 0 0 0 647.0 678.1 L658.0 673.2 L669.1 668.2 L680.3 663.2 L691.5 658.2 L702.7 653.2 L713.8 648.2 L724.7 643.3 L735.5 638.5 L745.9 633.9 L756.0 629.3 L764.4 625.6 L772.7 621.9 L780.9 618.2 L789.1 614.6 L797.1 611.1 L804.8 607.6 L812.3 604.3 L819.4 601.1 L826.1 598.1 L832.4 595.2 L836.2 593.4 L839.7 591.7 L843.1 590.1 L846.3 588.5 L849.3 587.0 L852.4 585.5 L855.3 584.0 L858.3 582.5 L861.4 581.0 L864.6 579.4 Z" fill="#1c1c1c"/>
<path d="M1002.7 837.7 L1004.7 837.8 L1006.6 837.8 L1008.5 837.9 L1010.3 838.0 L1012.2 838.1 L1014.1 838.2 L1016.1 838.3 L1018.1 838.3 L1020.3 838.3 L1022.6 838.3 L1026.4 838.1 L1030.5 837.9 L1034.8 837.6 L1039.3 837.3 L1044.0 836.9 L1048.8 836.6 L1053.7 836.2 L1058.7 835.9 L1063.7 835.5 L1068.8 835.1 L1074.9 834.7 L1081.2 834.3 L1087.7 833.9 L1094.3 833.4 L1101.0 833.0 L1107.7 832.5 L1114.5 832.1 L1121.3 831.6 L1128.0 831.1 L1134.7 830.7 A2.50 2.50 0 0 0 1134.3 825.7 L1127.7 826.2 L1121.0 826.6 L1114.2 827.1 L1107.4 827.5 L1100.6 828.0 L1093.9 828.4 L1087.3 828.9 L1080.9 829.3 L1074.5 829.7 L1068.4 830.2 L1063.4 830.5 L1058.4 830.8 L1053.4 831.1 L1048.5 831.4 L1043.6 831.7 L1039.0 832.0 L1034.5 832.3 L1030.2 832.6 L1026.1 832.9 L1022.3 833.3 L1020.0 833.5 L1017.8 833.8 L1015.8 834.1 L1013.8 834.5 L1012.0 834.8 L1010.1 835.2 L1008.3 835.5 L1006.5 835.8 L1004.6 836.2 L1002.7 836.5 Z" fill="#fff"/>
<path d="M1002.7 837.2 L1004.7 837.2 L1006.6 837.3 L1008.4 837.3 L1010.3 837.3 L1012.1 837.3 L1014.0 837.3 L1016.0 837.3 L1018.1 837.3 L1020.2 837.2 L1022.6 837.2 L1026.4 837.0 L1030.4 836.7 L1034.7 836.4 L1039.2 836.1 L1043.9 835.8 L1048.7 835.5 L1053.6 835.1 L1058.6 834.7 L1063.7 834.4 L1068.7 834.0 L1074.8 833.6 L1081.1 833.2 L1087.6 832.8 L1094.2 832.3 L1100.9 831.9 L1107.7 831.4 L1114.5 831.0 L1121.2 830.5 L1128.0 830.0 L1134.6 829.6 A1.40 1.40 0 0 0 1134.4 826.8 L1127.8 827.3 L1121.0 827.7 L1114.3 828.2 L1107.5 828.6 L1100.7 829.1 L1094.0 829.5 L1087.4 830.0 L1080.9 830.4 L1074.6 830.8 L1068.5 831.3 L1063.5 831.6 L1058.4 831.9 L1053.5 832.2 L1048.5 832.5 L1043.7 832.8 L1039.0 833.2 L1034.5 833.5 L1030.2 833.8 L1026.2 834.1 L1022.4 834.4 L1020.1 834.6 L1017.9 834.8 L1015.9 835.1 L1013.9 835.4 L1012.0 835.6 L1010.2 835.9 L1008.3 836.2 L1006.5 836.4 L1004.6 836.7 L1002.7 837.0 Z" fill="#1c1c1c"/>
<path d="M930.4 901.1 L928.4 900.9 L926.5 900.7 L924.7 900.4 L922.8 900.2 L920.9 899.9 L919.0 899.7 L917.0 899.5 L914.9 899.3 L912.7 899.1 L910.4 899.0 L906.5 898.9 L902.4 898.8 L898.1 898.7 L893.5 898.7 L888.7 898.6 L883.9 898.6 L878.9 898.6 L873.8 898.6 L868.7 898.5 L863.6 898.5 L857.4 898.4 L851.0 898.4 L844.5 898.3 L837.8 898.2 L831.0 898.2 L824.1 898.1 L817.2 898.0 L810.4 897.9 L803.6 897.9 L796.8 897.8 A2.50 2.50 0 0 0 796.8 902.8 L803.5 902.9 L810.3 902.9 L817.2 903.0 L824.1 903.1 L830.9 903.2 L837.7 903.2 L844.4 903.3 L851.0 903.4 L857.4 903.4 L863.6 903.5 L868.7 903.6 L873.8 903.6 L878.8 903.7 L883.8 903.8 L888.7 903.9 L893.4 904.0 L898.0 904.0 L902.4 904.0 L906.5 904.0 L910.3 904.0 L912.7 903.9 L914.9 903.8 L917.0 903.6 L919.0 903.5 L920.9 903.3 L922.8 903.1 L924.6 902.9 L926.5 902.7 L928.4 902.5 L930.4 902.3 Z" fill="#fff"/>
<path d="M930.4 901.6 L928.4 901.4 L926.5 901.2 L924.7 901.1 L922.8 900.9 L920.9 900.7 L919.0 900.6 L917.0 900.4 L914.9 900.3 L912.7 900.2 L910.4 900.1 L906.5 900.0 L902.4 899.9 L898.0 899.9 L893.5 899.8 L888.7 899.8 L883.9 899.8 L878.9 899.7 L873.8 899.7 L868.7 899.6 L863.6 899.6 L857.4 899.5 L851.0 899.5 L844.4 899.4 L837.8 899.3 L831.0 899.3 L824.1 899.2 L817.2 899.1 L810.4 899.0 L803.5 899.0 L796.8 898.9 A1.40 1.40 0 0 0 796.8 901.7 L803.5 901.8 L810.3 901.8 L817.2 901.9 L824.1 902.0 L830.9 902.1 L837.7 902.1 L844.4 902.2 L851.0 902.3 L857.4 902.3 L863.6 902.4 L868.7 902.5 L873.8 902.5 L878.8 902.6 L883.8 902.7 L888.7 902.7 L893.4 902.8 L898.0 902.9 L902.4 902.9 L906.5 902.9 L910.3 902.9 L912.7 902.8 L914.9 902.8 L917.0 902.7 L919.0 902.6 L920.9 902.5 L922.8 902.3 L924.6 902.2 L926.5 902.1 L928.4 902.0 L930.4 901.8 Z" fill="#1c1c1c"/>
<path d="M1051.8 1226.2 L1053.0 1226.3 L1054.0 1226.4 L1055.1 1226.6 L1056.1 1226.7 L1057.2 1226.9 L1058.3 1227.0 L1059.4 1227.1 L1060.6 1227.2 L1061.8 1227.2 L1063.1 1227.3 L1065.3 1227.2 L1067.6 1227.0 L1070.0 1226.9 L1072.5 1226.7 L1075.2 1226.5 L1077.9 1226.2 L1080.7 1226.0 L1083.5 1225.8 L1086.3 1225.5 L1089.1 1225.3 L1092.6 1225.0 L1096.1 1224.8 L1099.8 1224.5 L1103.5 1224.2 L1107.3 1223.9 L1111.1 1223.6 L1114.9 1223.3 L1118.8 1223.1 L1122.5 1222.8 L1126.3 1222.5 A2.50 2.50 0 0 0 1125.9 1217.5 L1122.2 1217.8 L1118.4 1218.1 L1114.6 1218.4 L1110.7 1218.7 L1106.9 1218.9 L1103.1 1219.2 L1099.4 1219.5 L1095.8 1219.8 L1092.2 1220.0 L1088.8 1220.3 L1085.9 1220.5 L1083.1 1220.7 L1080.3 1220.9 L1077.5 1221.1 L1074.8 1221.2 L1072.1 1221.4 L1069.6 1221.6 L1067.2 1221.8 L1064.9 1222.0 L1062.8 1222.3 L1061.5 1222.5 L1060.2 1222.7 L1059.1 1223.0 L1058.0 1223.3 L1057.0 1223.5 L1055.9 1223.8 L1054.9 1224.1 L1053.9 1224.4 L1052.8 1224.7 L1051.8 1225.0 Z" fill="#fff"/>
<path d="M1051.8 1225.7 L1052.9 1225.8 L1054.0 1225.9 L1055.0 1225.9 L1056.1 1226.0 L1057.1 1226.1 L1058.2 1226.1 L1059.3 1226.2 L1060.5 1226.2 L1061.7 1226.2 L1063.1 1226.2 L1065.2 1226.0 L1067.5 1225.9 L1069.9 1225.7 L1072.5 1225.5 L1075.1 1225.3 L1077.8 1225.1 L1080.6 1224.9 L1083.4 1224.6 L1086.2 1224.4 L1089.1 1224.2 L1092.5 1223.9 L1096.1 1223.7 L1099.7 1223.4 L1103.4 1223.1 L1107.2 1222.8 L1111.0 1222.5 L1114.9 1222.3 L1118.7 1222.0 L1122.5 1221.7 L1126.2 1221.4 A1.40 1.40 0 0 0 1126.0 1218.6 L1122.3 1218.9 L1118.5 1219.2 L1114.6 1219.5 L1110.8 1219.7 L1107.0 1220.0 L1103.2 1220.3 L1099.5 1220.6 L1095.9 1220.9 L1092.3 1221.1 L1088.8 1221.4 L1086.0 1221.6 L1083.2 1221.8 L1080.4 1222.0 L1077.6 1222.2 L1074.9 1222.4 L1072.2 1222.6 L1069.7 1222.8 L1067.3 1223.0 L1065.0 1223.2 L1062.8 1223.4 L1061.5 1223.5 L1060.3 1223.7 L1059.2 1223.9 L1058.1 1224.1 L1057.0 1224.4 L1056.0 1224.6 L1055.0 1224.8 L1053.9 1225.0 L1052.9 1225.2 L1051.8 1225.5 Z" fill="#1c1c1c"/>
<path d="M829.2 1405.9 L828.5 1405.1 L827.7 1404.3 L827.0 1403.5 L826.3 1402.7 L825.5 1401.9 L824.8 1401.1 L824.0 1400.3 L823.1 1399.4 L822.2 1398.6 L821.2 1397.7 L819.5 1396.4 L817.6 1395.0 L815.6 1393.5 L813.5 1392.0 L811.3 1390.4 L809.1 1388.8 L806.8 1387.2 L804.5 1385.5 L802.1 1383.9 L799.8 1382.2 L796.9 1380.1 L794.0 1378.0 L791.0 1375.8 L787.9 1373.6 L784.8 1371.3 L781.7 1369.0 L778.5 1366.8 L775.4 1364.5 L772.3 1362.2 L769.2 1360.0 A2.50 2.50 0 0 0 766.2 1364.0 L769.3 1366.3 L772.4 1368.5 L775.6 1370.8 L778.7 1373.1 L781.9 1375.4 L785.0 1377.6 L788.1 1379.9 L791.1 1382.0 L794.0 1384.2 L796.8 1386.2 L799.2 1387.9 L801.5 1389.6 L803.8 1391.3 L806.0 1393.0 L808.3 1394.7 L810.4 1396.3 L812.5 1397.8 L814.5 1399.2 L816.4 1400.5 L818.3 1401.8 L819.4 1402.5 L820.5 1403.1 L821.5 1403.6 L822.6 1404.1 L823.6 1404.6 L824.6 1405.0 L825.5 1405.5 L826.5 1405.9 L827.5 1406.4 L828.6 1406.9 Z" fill="#fff"/>
<path d="M829.0 1406.3 L828.2 1405.5 L827.4 1404.8 L826.6 1404.0 L825.8 1403.3 L825.1 1402.6 L824.2 1401.8 L823.4 1401.0 L822.5 1400.3 L821.6 1399.4 L820.5 1398.6 L818.8 1397.3 L816.9 1395.9 L814.9 1394.4 L812.9 1392.9 L810.7 1391.4 L808.4 1389.7 L806.1 1388.1 L803.8 1386.4 L801.5 1384.8 L799.1 1383.1 L796.3 1381.0 L793.4 1378.9 L790.3 1376.7 L787.3 1374.5 L784.2 1372.2 L781.0 1369.9 L777.9 1367.7 L774.7 1365.4 L771.6 1363.1 L768.5 1360.9 A1.40 1.40 0 0 0 766.9 1363.1 L770.0 1365.4 L773.1 1367.6 L776.2 1369.9 L779.4 1372.2 L782.5 1374.5 L785.6 1376.7 L788.7 1379.0 L791.7 1381.1 L794.6 1383.3 L797.5 1385.3 L799.8 1387.0 L802.1 1388.7 L804.4 1390.4 L806.7 1392.1 L808.9 1393.7 L811.1 1395.3 L813.2 1396.8 L815.2 1398.3 L817.1 1399.6 L818.9 1400.9 L820.0 1401.6 L821.1 1402.2 L822.1 1402.8 L823.1 1403.4 L824.0 1403.9 L825.0 1404.4 L825.9 1404.9 L826.9 1405.5 L827.8 1406.0 L828.8 1406.5 Z" fill="#1c1c1c"/>
<path d="M885.2 1562.0 L884.1 1561.9 L883.0 1561.7 L881.9 1561.6 L880.9 1561.4 L879.8 1561.3 L878.7 1561.1 L877.6 1561.0 L876.4 1560.9 L875.2 1560.9 L873.8 1560.8 L871.7 1560.9 L869.4 1561.0 L867.0 1561.2 L864.4 1561.3 L861.8 1561.5 L859.0 1561.7 L856.2 1561.9 L853.4 1562.2 L850.6 1562.4 L847.7 1562.6 L844.3 1562.8 L840.7 1563.0 L837.0 1563.3 L833.3 1563.5 L829.5 1563.8 L825.7 1564.0 L821.8 1564.3 L818.0 1564.5 L814.2 1564.8 L810.4 1565.0 A2.50 2.50 0 0 0 810.8 1570.0 L814.5 1569.7 L818.3 1569.5 L822.2 1569.2 L826.0 1569.0 L829.8 1568.7 L833.6 1568.5 L837.4 1568.2 L841.0 1568.0 L844.6 1567.8 L848.1 1567.5 L850.9 1567.4 L853.8 1567.2 L856.6 1567.0 L859.4 1566.9 L862.1 1566.7 L864.7 1566.6 L867.3 1566.4 L869.7 1566.2 L872.0 1566.0 L874.2 1565.8 L875.5 1565.6 L876.7 1565.4 L877.8 1565.2 L878.9 1564.9 L880.0 1564.6 L881.0 1564.3 L882.1 1564.0 L883.1 1563.7 L884.2 1563.5 L885.2 1563.2 Z" fill="#fff"/>
<path d="M885.2 1562.5 L884.1 1562.4 L883.0 1562.3 L882.0 1562.2 L880.9 1562.2 L879.8 1562.1 L878.8 1562.0 L877.6 1562.0 L876.5 1561.9 L875.2 1561.9 L873.9 1561.9 L871.8 1562.0 L869.5 1562.2 L867.0 1562.3 L864.5 1562.5 L861.8 1562.7 L859.1 1562.9 L856.3 1563.1 L853.5 1563.3 L850.7 1563.5 L847.8 1563.7 L844.3 1563.9 L840.8 1564.1 L837.1 1564.4 L833.4 1564.6 L829.6 1564.9 L825.7 1565.1 L821.9 1565.4 L818.1 1565.6 L814.3 1565.9 L810.5 1566.1 A1.40 1.40 0 0 0 810.7 1568.9 L814.5 1568.7 L818.3 1568.4 L822.1 1568.1 L825.9 1567.9 L829.8 1567.6 L833.5 1567.4 L837.3 1567.1 L841.0 1566.9 L844.5 1566.7 L848.0 1566.4 L850.8 1566.3 L853.7 1566.1 L856.5 1565.9 L859.3 1565.8 L862.0 1565.6 L864.7 1565.4 L867.2 1565.3 L869.7 1565.1 L872.0 1564.9 L874.1 1564.7 L875.4 1564.6 L876.6 1564.4 L877.8 1564.2 L878.9 1564.0 L880.0 1563.8 L881.0 1563.6 L882.0 1563.4 L883.1 1563.2 L884.1 1563.0 L885.2 1562.7 Z" fill="#1c1c1c"/>
<path d="M1000.0 1577.1 L1003.1 1577.4 L1006.2 1577.7 L1009.2 1578.0 L1012.2 1578.3 L1015.2 1578.5 L1018.3 1578.8 L1021.5 1579.1 L1024.8 1579.4 L1028.3 1579.6 L1032.1 1579.8 L1038.2 1580.0 L1044.8 1580.3 L1051.8 1580.4 L1059.2 1580.6 L1066.8 1580.8 L1074.6 1581.0 L1082.6 1581.1 L1090.7 1581.3 L1098.9 1581.5 L1107.0 1581.7 L1117.0 1581.9 L1127.2 1582.2 L1137.8 1582.5 L1148.5 1582.7 L1159.4 1583.0 L1170.4 1583.3 L1181.4 1583.6 L1192.4 1583.9 L1203.3 1584.1 L1214.1 1584.4 A2.50 2.50 0 0 0 1214.3 1579.4 L1203.5 1579.1 L1192.5 1578.9 L1181.5 1578.6 L1170.5 1578.3 L1159.5 1578.0 L1148.6 1577.7 L1137.9 1577.5 L1127.4 1577.2 L1117.1 1577.0 L1107.2 1576.7 L1099.0 1576.5 L1090.8 1576.3 L1082.7 1576.0 L1074.7 1575.8 L1066.9 1575.6 L1059.3 1575.4 L1052.0 1575.2 L1045.0 1575.0 L1038.4 1574.9 L1032.2 1574.8 L1028.4 1574.8 L1024.9 1574.9 L1021.6 1575.0 L1018.4 1575.1 L1015.3 1575.2 L1012.2 1575.4 L1009.2 1575.5 L1006.2 1575.7 L1003.2 1575.8 L1000.0 1575.9 Z" fill="#fff"/>
<path d="M1000.0 1576.6 L1003.1 1576.9 L1006.2 1577.1 L1009.2 1577.3 L1012.2 1577.5 L1015.2 1577.7 L1018.3 1578.0 L1021.5 1578.2 L1024.8 1578.4 L1028.3 1578.5 L1032.1 1578.7 L1038.3 1578.9 L1044.9 1579.1 L1051.9 1579.3 L1059.2 1579.5 L1066.8 1579.7 L1074.6 1579.8 L1082.6 1580.0 L1090.7 1580.2 L1098.9 1580.4 L1107.1 1580.6 L1117.0 1580.9 L1127.3 1581.1 L1137.8 1581.4 L1148.5 1581.6 L1159.4 1581.9 L1170.4 1582.2 L1181.4 1582.5 L1192.4 1582.8 L1203.4 1583.0 L1214.2 1583.3 A1.40 1.40 0 0 0 1214.2 1580.5 L1203.4 1580.2 L1192.5 1580.0 L1181.5 1579.7 L1170.5 1579.4 L1159.5 1579.1 L1148.6 1578.8 L1137.9 1578.6 L1127.3 1578.3 L1117.1 1578.1 L1107.1 1577.8 L1099.0 1577.6 L1090.8 1577.4 L1082.7 1577.1 L1074.7 1576.9 L1066.9 1576.7 L1059.3 1576.5 L1051.9 1576.3 L1044.9 1576.2 L1038.3 1576.0 L1032.2 1575.9 L1028.4 1575.9 L1024.9 1575.9 L1021.5 1575.9 L1018.3 1576.0 L1015.2 1576.0 L1012.2 1576.1 L1009.2 1576.2 L1006.2 1576.2 L1003.2 1576.3 L1000.0 1576.4 Z" fill="#1c1c1c"/>
<path d="M905.4 1827.8 L904.0 1827.5 L902.6 1827.2 L901.3 1826.8 L899.9 1826.5 L898.5 1826.2 L897.1 1825.8 L895.7 1825.5 L894.2 1825.2 L892.5 1825.0 L890.8 1824.7 L888.0 1824.4 L885.0 1824.1 L881.7 1823.8 L878.4 1823.6 L874.9 1823.3 L871.3 1823.0 L867.6 1822.8 L863.9 1822.5 L860.1 1822.2 L856.4 1821.9 L851.8 1821.5 L847.1 1821.2 L842.2 1820.8 L837.3 1820.4 L832.3 1820.0 L827.2 1819.5 L822.2 1819.1 L817.1 1818.7 L812.1 1818.3 L807.1 1817.9 A2.50 2.50 0 0 0 806.7 1822.9 L811.7 1823.3 L816.7 1823.7 L821.7 1824.1 L826.8 1824.5 L831.9 1824.9 L836.9 1825.3 L841.8 1825.7 L846.7 1826.1 L851.4 1826.5 L855.9 1826.9 L859.7 1827.2 L863.5 1827.5 L867.2 1827.9 L870.9 1828.2 L874.5 1828.5 L878.0 1828.8 L881.3 1829.1 L884.5 1829.3 L887.6 1829.5 L890.4 1829.7 L892.2 1829.7 L893.8 1829.7 L895.3 1829.7 L896.8 1829.6 L898.3 1829.5 L899.7 1829.4 L901.1 1829.3 L902.5 1829.2 L903.9 1829.1 L905.4 1829.0 Z" fill="#fff"/>
<path d="M905.4 1828.3 L904.0 1828.0 L902.6 1827.7 L901.2 1827.5 L899.8 1827.2 L898.5 1827.0 L897.1 1826.7 L895.6 1826.5 L894.1 1826.2 L892.5 1826.0 L890.7 1825.8 L887.9 1825.5 L884.9 1825.2 L881.7 1825.0 L878.3 1824.7 L874.8 1824.4 L871.2 1824.2 L867.5 1823.9 L863.8 1823.6 L860.0 1823.3 L856.3 1823.0 L851.7 1822.6 L847.0 1822.3 L842.1 1821.9 L837.2 1821.5 L832.2 1821.0 L827.1 1820.6 L822.1 1820.2 L817.0 1819.8 L812.0 1819.4 L807.0 1819.0 A1.40 1.40 0 0 0 806.8 1821.8 L811.8 1822.2 L816.8 1822.6 L821.8 1823.0 L826.9 1823.4 L832.0 1823.8 L837.0 1824.2 L841.9 1824.6 L846.7 1825.0 L851.5 1825.4 L856.0 1825.8 L859.8 1826.1 L863.6 1826.4 L867.3 1826.7 L871.0 1827.1 L874.6 1827.4 L878.0 1827.7 L881.4 1827.9 L884.6 1828.2 L887.7 1828.4 L890.5 1828.6 L892.2 1828.7 L893.9 1828.7 L895.4 1828.7 L896.9 1828.7 L898.3 1828.7 L899.7 1828.7 L901.1 1828.6 L902.5 1828.6 L903.9 1828.6 L905.4 1828.5 Z" fill="#1c1c1c"/>
<path d="M1061.9 1803.2 L1063.0 1803.4 L1064.2 1803.7 L1065.3 1803.9 L1066.3 1804.2 L1067.4 1804.4 L1068.6 1804.7 L1069.7 1804.9 L1071.0 1805.1 L1072.3 1805.3 L1073.6 1805.4 L1075.9 1805.6 L1078.3 1805.7 L1080.9 1805.8 L1083.6 1805.8 L1086.4 1805.9 L1089.3 1806.0 L1092.2 1806.0 L1095.2 1806.1 L1098.2 1806.1 L1101.2 1806.2 L1104.8 1806.3 L1108.6 1806.4 L1112.5 1806.5 L1116.4 1806.6 L1120.4 1806.7 L1124.5 1806.8 L1128.5 1807.0 L1132.5 1807.1 L1136.6 1807.2 L1140.5 1807.3 A2.50 2.50 0 0 0 1140.7 1802.3 L1136.7 1802.2 L1132.7 1802.1 L1128.6 1802.0 L1124.6 1801.9 L1120.6 1801.7 L1116.6 1801.6 L1112.6 1801.5 L1108.7 1801.4 L1105.0 1801.3 L1101.3 1801.2 L1098.3 1801.1 L1095.3 1801.0 L1092.3 1800.9 L1089.4 1800.8 L1086.5 1800.7 L1083.7 1800.6 L1081.0 1800.5 L1078.5 1800.4 L1076.0 1800.4 L1073.8 1800.4 L1072.4 1800.5 L1071.1 1800.6 L1069.9 1800.8 L1068.7 1800.9 L1067.5 1801.1 L1066.4 1801.3 L1065.3 1801.5 L1064.2 1801.7 L1063.1 1801.8 L1061.9 1802.0 Z" fill="#fff"/>
<path d="M1061.9 1802.7 L1063.1 1802.9 L1064.2 1803.1 L1065.3 1803.3 L1066.4 1803.4 L1067.5 1803.6 L1068.6 1803.8 L1069.8 1803.9 L1071.0 1804.1 L1072.3 1804.2 L1073.7 1804.3 L1075.9 1804.4 L1078.4 1804.5 L1080.9 1804.6 L1083.6 1804.7 L1086.4 1804.8 L1089.3 1804.8 L1092.2 1804.9 L1095.2 1805.0 L1098.2 1805.0 L1101.2 1805.1 L1104.9 1805.2 L1108.6 1805.3 L1112.5 1805.4 L1116.4 1805.5 L1120.4 1805.6 L1124.5 1805.8 L1128.5 1805.9 L1132.6 1806.0 L1136.6 1806.1 L1140.6 1806.2 A1.40 1.40 0 0 0 1140.6 1803.4 L1136.7 1803.3 L1132.7 1803.2 L1128.6 1803.1 L1124.6 1803.0 L1120.5 1802.8 L1116.5 1802.7 L1112.6 1802.6 L1108.7 1802.5 L1104.9 1802.4 L1101.3 1802.3 L1098.3 1802.2 L1095.3 1802.1 L1092.3 1802.0 L1089.4 1801.9 L1086.5 1801.8 L1083.7 1801.7 L1081.0 1801.6 L1078.4 1801.6 L1076.0 1801.5 L1073.7 1801.5 L1072.4 1801.6 L1071.1 1801.6 L1069.8 1801.7 L1068.7 1801.8 L1067.5 1801.9 L1066.4 1802.0 L1065.3 1802.1 L1064.2 1802.2 L1063.1 1802.4 L1061.9 1802.5 Z" fill="#1c1c1c"/>
<path d="M817.0 224.3 L825.2 224.3 L833.2 224.3 L841.1 224.3 L849.0 224.3 L857.0 224.3 L865.0 224.3 L873.3 224.3 L881.8 224.3 L890.7 224.3 L900.0 224.3 L913.7 224.3 L928.9 224.3 L945.1 224.3 L961.8 224.3 L978.8 224.3 L995.4 224.3 L1011.3 224.3 L1026.0 224.3 L1039.0 224.2 L1050.0 224.2 L1054.5 224.1 L1058.5 224.0 L1062.3 223.9 L1065.7 223.8 L1069.0 223.6 L1072.2 223.5 L1075.3 223.3 L1078.4 223.1 L1081.6 223.0 L1085.0 222.8 L1085.0 222.4 L1081.6 222.1 L1078.4 221.9 L1075.3 221.6 L1072.2 221.4 L1069.0 221.2 L1065.8 220.9 L1062.3 220.7 L1058.6 220.5 L1054.5 220.3 L1050.0 220.2 L1039.0 220.1 L1026.0 220.0 L1011.3 220.0 L995.4 220.0 L978.8 220.0 L961.8 220.0 L945.1 220.0 L928.9 220.1 L913.7 220.1 L900.0 220.1 L890.7 220.1 L881.8 220.1 L873.3 220.1 L865.0 220.1 L857.0 220.1 L849.0 220.1 L841.1 220.1 L833.2 220.1 L825.2 220.1 L817.0 220.1 A2.10 2.10 0 0 0 817.0 224.3 Z" fill="#3a3a3a"/>
</g>
<g id="text" fill="#000" style="will-change:transform">
<text x="584.6" y="124.0" textLength="239.2" lengthAdjust="spacingAndGlyphs" font-family='"Liberation Sans", sans-serif' stroke="#fff" stroke-width="1.8"><tspan font-size="90">Veins</tspan></text>
<text x="843.7" y="124.0" textLength="90.0" lengthAdjust="spacingAndGlyphs" font-family='"Liberation Sans", sans-serif' stroke="#fff" stroke-width="1.8"><tspan font-size="90">of</tspan></text>
<text x="952.3" y="124.0" textLength="149.9" lengthAdjust="spacingAndGlyphs" font-family='"Liberation Sans", sans-serif' stroke="#fff" stroke-width="1.8"><tspan font-size="90">the</tspan></text>
<text x="1121.5" y="124.0" textLength="259.0" lengthAdjust="spacingAndGlyphs" font-family='"Liberation Sans", sans-serif' stroke="#fff" stroke-width="1.8"><tspan font-size="90">Trunk</tspan></text>
<text x="821.5" y="211.5" textLength="254.9" lengthAdjust="spacingAndGlyphs" font-family='"Liberation Sans", sans-serif' stroke="#000" stroke-width="0.9"><tspan font-size="51">O</tspan><tspan font-size="41.7">VERVIEW</tspan></text>
<text x="487.6" y="291.5" textLength="156.5" lengthAdjust="spacingAndGlyphs" font-family='"Liberation Serif", serif'><tspan font-size="57">R</tspan><tspan font-size="42.5">IGHT</tspan></text>
<text x="1235.3" y="291.3" textLength="115.1" lengthAdjust="spacingAndGlyphs" font-family='"Liberation Serif", serif'><tspan font-size="57">L</tspan><tspan font-size="42.5">EFT</tspan></text>
<text x="778.8" y="357.8" textLength="357.2" lengthAdjust="spacingAndGlyphs" font-family='"Liberation Sans", sans-serif' stroke="#fff" stroke-width="1.0"><tspan font-size="46">Brachiocephalic</tspan></text>
<text x="1148.0" y="357.8" textLength="59.6" lengthAdjust="spacingAndGlyphs" font-family='"Liberation Sans", sans-serif' stroke="#fff" stroke-width="1.0"><tspan font-size="46">vv.</tspan></text>
<text x="149.6" y="543.5" textLength="170.9" lengthAdjust="spacingAndGlyphs" font-family='"Liberation Sans", sans-serif' stroke="#fff" stroke-width="1.0"><tspan font-size="46">Internal</tspan></text>
<text x="335.4" y="543.5" textLength="181.1" lengthAdjust="spacingAndGlyphs" font-family='"Liberation Sans", sans-serif' stroke="#fff" stroke-width="1.0"><tspan font-size="46">thoracic</tspan></text>
<text x="525.5" y="543.5" textLength="37.0" lengthAdjust="spacingAndGlyphs" font-family='"Liberation Sans", sans-serif' stroke="#fff" stroke-width="1.0"><tspan font-size="46">v.</tspan></text>
<text x="1141.8" y="577.2" textLength="192.2" lengthAdjust="spacingAndGlyphs" font-family='"Liberation Sans", sans-serif' stroke="#fff" stroke-width="1.0"><tspan font-size="46">Superior</tspan></text>
<text x="1144.1" y="631.3" textLength="104.9" lengthAdjust="spacingAndGlyphs" font-family='"Liberation Sans", sans-serif' stroke="#fff" stroke-width="1.0"><tspan font-size="46">vena</tspan></text>
<text x="1262.0" y="631.3" textLength="100.1" lengthAdjust="spacingAndGlyphs" font-family='"Liberation Sans", sans-serif' stroke="#fff" stroke-width="1.0"><tspan font-size="46">cava</tspan></text>
<text x="444.0" y="700.7" textLength="192.9" lengthAdjust="spacingAndGlyphs" font-family='"Liberation Sans", sans-serif' stroke="#fff" stroke-width="1.0"><tspan font-size="46">Superior</tspan></text>
<text x="448.4" y="754.4" textLength="231.7" lengthAdjust="spacingAndGlyphs" font-family='"Liberation Sans", sans-serif' stroke="#fff" stroke-width="1.0"><tspan font-size="46">intercostal</tspan></text>
<text x="694.7" y="754.4" textLength="90.3" lengthAdjust="spacingAndGlyphs" font-family='"Liberation Sans", sans-serif' stroke="#fff" stroke-width="1.0"><tspan font-size="46">vein</tspan></text>
<text x="1136.8" y="844.0" textLength="225.3" lengthAdjust="spacingAndGlyphs" font-family='"Liberation Sans", sans-serif' stroke="#fff" stroke-width="1.0"><tspan font-size="46">Accessory</tspan></text>
<text x="1139.3" y="897.7" textLength="269.8" lengthAdjust="spacingAndGlyphs" font-family='"Liberation Sans", sans-serif' stroke="#fff" stroke-width="1.0"><tspan font-size="46">hemiazygos</tspan></text>
<text x="1419.0" y="897.7" textLength="35.8" lengthAdjust="spacingAndGlyphs" font-family='"Liberation Sans", sans-serif' stroke="#fff" stroke-width="1.0"><tspan font-size="46">v.</tspan></text>
<text x="589.4" y="908.4" textLength="160.6" lengthAdjust="spacingAndGlyphs" font-family='"Liberation Sans", sans-serif' stroke="#fff" stroke-width="1.0"><tspan font-size="46">Azygos</tspan></text>
<text x="760.9" y="908.4" textLength="34.7" lengthAdjust="spacingAndGlyphs" font-family='"Liberation Sans", sans-serif' stroke="#fff" stroke-width="1.0"><tspan font-size="46">v.</tspan></text>
<text x="1133.7" y="1234.0" textLength="276.5" lengthAdjust="spacingAndGlyphs" font-family='"Liberation Sans", sans-serif' stroke="#fff" stroke-width="1.0"><tspan font-size="46">Hemiazygos</tspan></text>
<text x="1419.0" y="1234.0" textLength="35.8" lengthAdjust="spacingAndGlyphs" font-family='"Liberation Sans", sans-serif' stroke="#fff" stroke-width="1.0"><tspan font-size="46">v.</tspan></text>
<text x="577.8" y="1351.0" textLength="219.7" lengthAdjust="spacingAndGlyphs" font-family='"Liberation Sans", sans-serif' stroke="#fff" stroke-width="1.0"><tspan font-size="46">Subcostal</tspan></text>
<text x="812.7" y="1351.0" textLength="34.0" lengthAdjust="spacingAndGlyphs" font-family='"Liberation Sans", sans-serif' stroke="#fff" stroke-width="1.0"><tspan font-size="46">v.</tspan></text>
<text x="599.1" y="1526.5" textLength="237.8" lengthAdjust="spacingAndGlyphs" font-family='"Liberation Sans", sans-serif' stroke="#fff" stroke-width="1.0"><tspan font-size="46">Ascending</tspan></text>
<text x="601.1" y="1580.3" textLength="161.5" lengthAdjust="spacingAndGlyphs" font-family='"Liberation Sans", sans-serif' stroke="#fff" stroke-width="1.0"><tspan font-size="46">lumbar</tspan></text>
<text x="775.6" y="1580.3" textLength="34.6" lengthAdjust="spacingAndGlyphs" font-family='"Liberation Sans", sans-serif' stroke="#fff" stroke-width="1.0"><tspan font-size="46">v.</tspan></text>
<text x="1217.0" y="1598.9" textLength="159.0" lengthAdjust="spacingAndGlyphs" font-family='"Liberation Sans", sans-serif' stroke="#fff" stroke-width="1.0"><tspan font-size="46">Inferior</tspan></text>
<text x="1214.4" y="1653.1" textLength="106.1" lengthAdjust="spacingAndGlyphs" font-family='"Liberation Sans", sans-serif' stroke="#fff" stroke-width="1.0"><tspan font-size="46">vena</tspan></text>
<text x="1333.6" y="1653.1" textLength="100.1" lengthAdjust="spacingAndGlyphs" font-family='"Liberation Sans", sans-serif' stroke="#fff" stroke-width="1.0"><tspan font-size="46">cava</tspan></text>
<text x="592.8" y="1830.8" textLength="211.1" lengthAdjust="spacingAndGlyphs" font-family='"Liberation Sans", sans-serif' stroke="#fff" stroke-width="1.0"><tspan font-size="46">Common</tspan></text>
<text x="596.1" y="1884.5" textLength="85.2" lengthAdjust="spacingAndGlyphs" font-family='"Liberation Sans", sans-serif' stroke="#fff" stroke-width="1.0"><tspan font-size="46">iliac</tspan></text>
<text x="693.5" y="1884.5" textLength="34.8" lengthAdjust="spacingAndGlyphs" font-family='"Liberation Sans", sans-serif' stroke="#fff" stroke-width="1.0"><tspan font-size="46">v.</tspan></text>
<text x="1147.8" y="1820.6" textLength="227.2" lengthAdjust="spacingAndGlyphs" font-family='"Liberation Sans", sans-serif' stroke="#fff" stroke-width="1.0"><tspan font-size="46">Iliolumbar</tspan></text>
<text x="1382.8" y="1820.6" textLength="40.6" lengthAdjust="spacingAndGlyphs" font-family='"Liberation Sans", sans-serif' stroke="#fff" stroke-width="1.0"><tspan font-size="46">v.</tspan></text>
</g>
</svg>
</body></html>
